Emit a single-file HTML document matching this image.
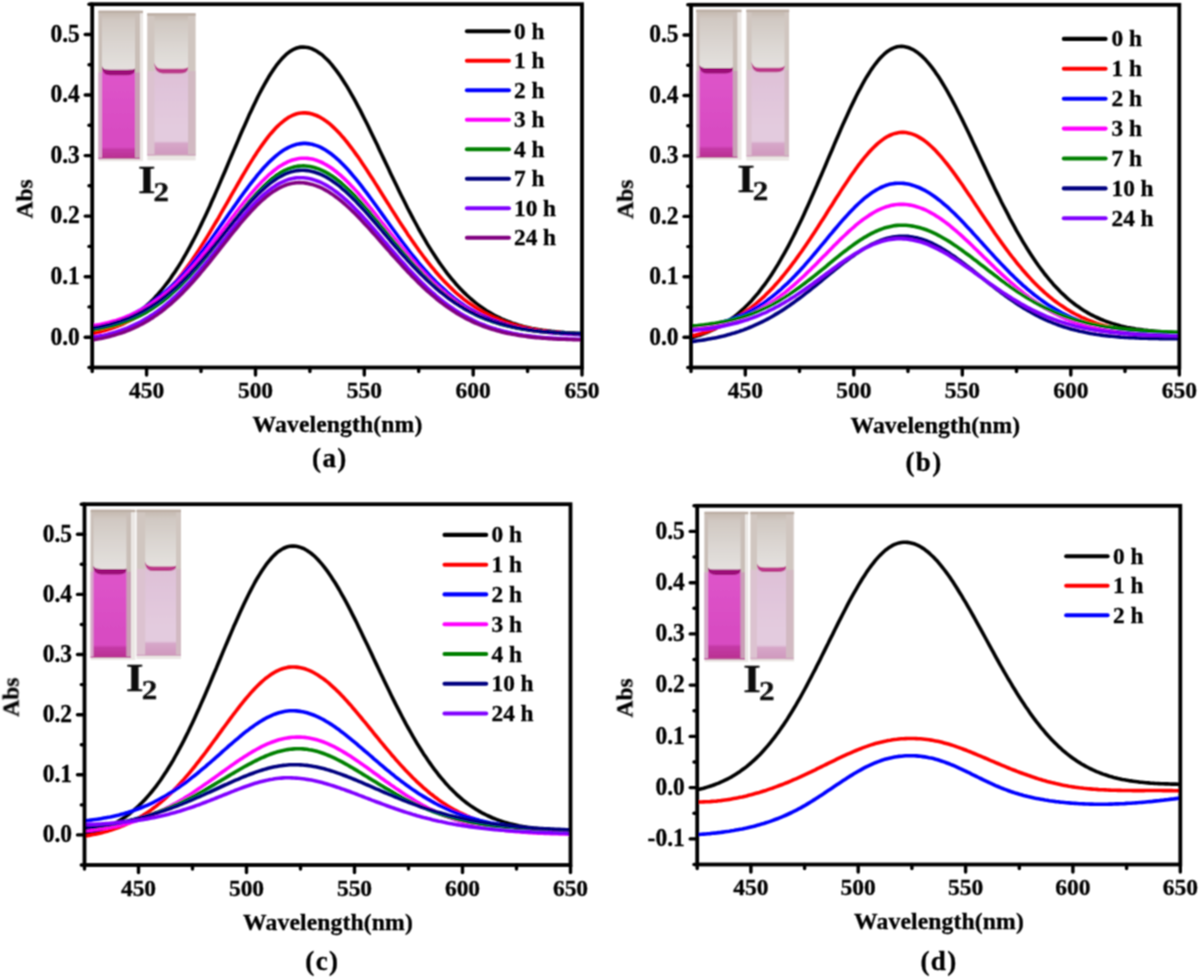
<!DOCTYPE html>
<html><head><meta charset="utf-8"><title>Abs spectra</title>
<style>html,body{margin:0;padding:0;background:#fff;}body{width:1200px;height:978px;overflow:hidden;font-family:"Liberation Serif",serif;}svg{display:block}</style>
</head><body>
<svg width="1200" height="978" viewBox="0 0 1200 978" font-family='"Liberation Serif", serif'>
<defs>
<filter id="gblur" x="0" y="0" width="1200" height="978" filterUnits="userSpaceOnUse"><feConvolveMatrix order="3" kernelMatrix="1 2 1 2 4 2 1 2 1" divisor="16" edgeMode="duplicate"/></filter>
<filter id="soft" x="-5%" y="-5%" width="110%" height="110%"><feGaussianBlur stdDeviation="0.6"/></filter>
</defs>
<style>text{stroke:#000;stroke-width:0.3px;paint-order:stroke}</style>
<rect width="1200" height="978" fill="#ffffff"/>
<g filter="url(#gblur)">
<defs><linearGradient id="ag995" x1="0" y1="10.7" x2="0" y2="72.5" gradientUnits="userSpaceOnUse"><stop offset="0" stop-color="#c2b5ab"/><stop offset="0.15" stop-color="#d0c8c2"/><stop offset="0.6" stop-color="#dcd7d3"/><stop offset="1" stop-color="#e5e2df"/></linearGradient><linearGradient id="lg995" x1="0" y1="72.5" x2="0" y2="159.1" gradientUnits="userSpaceOnUse"><stop offset="0" stop-color="#de54ca"/><stop offset="0.688" stop-color="#d84cc2"/><stop offset="0.860" stop-color="#d84cc2"/><stop offset="0.890" stop-color="#c43aa6"/><stop offset="1" stop-color="#b8308f"/></linearGradient></defs>
<g filter="url(#soft)">
<rect x="98.5" y="10.7" width="44.5" height="150.6" fill="#ebe7e4"/>
<rect x="98.4" y="10.7" width="41.6" height="148.4" fill="#c9beb7"/>
<rect x="98.4" y="72.5" width="4.1" height="86.6" fill="#d7a6cb"/>
<rect x="134.5" y="72.5" width="5.5" height="86.6" fill="#c99fb6"/>
<rect x="98.5" y="10.7" width="44.5" height="2.5" fill="#bcaea4"/>
<path d="M102.0,13.2 L135.0,13.2 L135.0,68.6 Q134.5,71.5 128.0,71.5 L109.0,71.5 Q102.5,71.5 102.0,66.3 Z" fill="url(#ag995)"/>
<path d="M102.0,66.3 Q102.5,72.5 109.0,72.5 L128.0,72.5 Q134.5,72.5 135.0,68.6 L135.0,158.1 L102.0,158.1 Z" fill="url(#lg995)"/>
<path d="M102.0,66.3 Q102.8,69.8 110.0,69.8 L127.0,69.8 Q134.2,69.8 135.0,68.6 L135.0,70.8 Q134.0,75.2 127.0,75.2 L110.0,75.2 Q103.0,75.2 102.0,68.5 Z" fill="#9c0e78"/>
<rect x="98.4" y="157.6" width="41.6" height="1.5" fill="#b8308f" opacity="0.6"/>
</g>
<defs><linearGradient id="ag1486" x1="0" y1="13.3" x2="0" y2="71.1" gradientUnits="userSpaceOnUse"><stop offset="0" stop-color="#c2b5ab"/><stop offset="0.15" stop-color="#d0c8c2"/><stop offset="0.6" stop-color="#dcd7d3"/><stop offset="1" stop-color="#e5e2df"/></linearGradient><linearGradient id="lg1486" x1="0" y1="71.1" x2="0" y2="155.6" gradientUnits="userSpaceOnUse"><stop offset="0" stop-color="#dec0d7"/><stop offset="0.662" stop-color="#e3cbde"/><stop offset="0.827" stop-color="#e3cbde"/><stop offset="0.857" stop-color="#d6a6c8"/><stop offset="1" stop-color="#cf98bd"/></linearGradient></defs>
<g filter="url(#soft)">
<rect x="147.3" y="13.3" width="48.3" height="147.1" fill="#ebe7e4"/>
<rect x="147.3" y="13.3" width="48.2" height="142.3" fill="#d0c6c0"/>
<rect x="147.3" y="71.1" width="7.7" height="84.5" fill="#dcc2d0"/>
<rect x="187.5" y="71.1" width="8.0" height="84.5" fill="#d2b9c2"/>
<rect x="147.3" y="13.3" width="48.3" height="2.5" fill="#bcaea4"/>
<path d="M154.5,15.8 L188.0,15.8 L188.0,67.0 Q187.5,70.1 181.0,70.1 L161.5,70.1 Q155.0,70.1 154.5,62.8 Z" fill="url(#ag1486)"/>
<path d="M154.5,62.8 Q155.0,71.1 161.5,71.1 L181.0,71.1 Q187.5,71.1 188.0,67.0 L188.0,154.6 L154.5,154.6 Z" fill="url(#lg1486)"/>
<path d="M154.5,62.8 Q155.3,68.8 162.5,68.8 L180.0,68.8 Q187.2,68.8 188.0,67.0 L188.0,69.2 Q187.0,73.4 180.0,73.4 L162.5,73.4 Q155.5,73.4 154.5,65.0 Z" fill="#bc388a"/>
<rect x="147.3" y="154.1" width="48.2" height="1.5" fill="#cf98bd" opacity="0.6"/>
</g>
<text transform="translate(138.0,193.0) scale(1.13,1.02)" font-size="40" font-weight="bold" fill="#111" stroke="#111" stroke-width="0.6">I</text>
<text transform="translate(153.6,200.8) scale(1.15,1.04)" font-size="27" font-weight="bold" fill="#111" stroke="#111" stroke-width="0.5">2</text>
<polyline points="92.2,332.8 94.4,332.3 96.6,331.8 98.7,331.2 100.9,330.7 103.1,330.0 105.3,329.4 107.4,328.7 109.6,327.9 111.8,327.1 114.0,326.2 116.1,325.3 118.3,324.4 120.5,323.4 122.7,322.3 124.9,321.1 127.0,319.9 129.2,318.7 131.4,317.3 133.6,315.9 135.7,314.4 137.9,312.8 140.1,311.2 142.3,309.4 144.4,307.6 146.6,305.7 148.8,303.7 151.0,301.6 153.2,299.4 155.3,297.1 157.5,294.8 159.7,292.3 161.9,289.7 164.0,287.0 166.2,284.2 168.4,281.3 170.6,278.3 172.7,275.1 174.9,271.9 177.1,268.6 179.3,265.1 181.5,261.6 183.6,257.9 185.8,254.1 188.0,250.2 190.2,246.2 192.3,242.2 194.5,238.0 196.7,233.7 198.9,229.3 201.0,224.9 203.2,220.3 205.4,215.7 207.6,211.0 209.8,206.2 211.9,201.3 214.1,196.4 216.3,191.4 218.5,186.4 220.6,181.4 222.8,176.3 225.0,171.2 227.2,166.0 229.3,160.9 231.5,155.8 233.7,150.6 235.9,145.5 238.1,140.4 240.2,135.3 242.4,130.3 244.6,125.4 246.8,120.5 248.9,115.6 251.1,110.9 253.3,106.2 255.5,101.7 257.6,97.3 259.8,93.0 262.0,88.8 264.2,84.8 266.4,81.0 268.5,77.3 270.7,73.7 272.9,70.4 275.1,67.3 277.2,64.3 279.4,61.6 281.6,59.1 283.8,56.8 285.9,54.7 288.1,52.9 290.3,51.3 292.5,49.9 294.7,48.9 296.8,48.0 299.0,47.4 301.2,47.1 303.4,47.0 305.5,47.2 307.7,47.5 309.9,48.1 312.1,48.8 314.2,49.8 316.4,51.0 318.6,52.4 320.8,53.9 323.0,55.7 325.1,57.7 327.3,59.8 329.5,62.1 331.7,64.6 333.8,67.3 336.0,70.1 338.2,73.1 340.4,76.2 342.5,79.5 344.7,82.9 346.9,86.4 349.1,90.1 351.2,93.8 353.4,97.7 355.6,101.7 357.8,105.8 360.0,109.9 362.1,114.1 364.3,118.5 366.5,122.8 368.7,127.2 370.8,131.7 373.0,136.2 375.2,140.8 377.4,145.3 379.5,149.9 381.7,154.5 383.9,159.1 386.1,163.7 388.3,168.3 390.4,172.9 392.6,177.5 394.8,182.0 397.0,186.5 399.1,191.0 401.3,195.5 403.5,199.8 405.7,204.2 407.8,208.5 410.0,212.7 412.2,216.9 414.4,221.0 416.6,225.0 418.7,229.0 420.9,232.9 423.1,236.7 425.3,240.4 427.4,244.1 429.6,247.6 431.8,251.1 434.0,254.5 436.1,257.8 438.3,261.1 440.5,264.2 442.7,267.2 444.9,270.2 447.0,273.1 449.2,275.9 451.4,278.6 453.6,281.2 455.7,283.7 457.9,286.1 460.1,288.5 462.3,290.7 464.4,292.9 466.6,295.0 468.8,297.0 471.0,299.0 473.2,300.8 475.3,302.6 477.5,304.3 479.7,306.0 481.9,307.5 484.0,309.0 486.2,310.5 488.4,311.8 490.6,313.1 492.7,314.4 494.9,315.6 497.1,316.7 499.3,317.7 501.5,318.8 503.6,319.7 505.8,320.6 508.0,321.5 510.2,322.3 512.3,323.1 514.5,323.8 516.7,324.5 518.9,325.2 521.0,325.8 523.2,326.4 525.4,326.9 527.6,327.4 529.8,327.9 531.9,328.4 534.1,328.8 536.3,329.2 538.5,329.6 540.6,329.9 542.8,330.3 545.0,330.6 547.2,330.9 549.3,331.1 551.5,331.4 553.7,331.6 555.9,331.8 558.1,332.0 560.2,332.2 562.4,332.4 564.6,332.6 566.8,332.7 568.9,332.9 571.1,333.0 573.3,333.1 575.5,333.2 577.6,333.3 579.8,333.4 582.0,333.5" fill="none" stroke="#000000" stroke-width="3.6" stroke-linejoin="round"/>
<polyline points="92.2,333.8 94.4,333.3 96.6,332.8 98.7,332.3 100.9,331.7 103.1,331.1 105.3,330.5 107.4,329.8 109.6,329.1 111.8,328.3 114.0,327.6 116.1,326.7 118.3,325.9 120.5,325.0 122.7,324.0 124.9,323.0 127.0,321.9 129.2,320.8 131.4,319.7 133.6,318.4 135.7,317.2 137.9,315.8 140.1,314.4 142.3,313.0 144.4,311.5 146.6,309.9 148.8,308.2 151.0,306.5 153.2,304.7 155.3,302.8 157.5,300.9 159.7,298.9 161.9,296.8 164.0,294.6 166.2,292.4 168.4,290.1 170.6,287.7 172.7,285.3 174.9,282.7 177.1,280.1 179.3,277.4 181.5,274.7 183.6,271.8 185.8,268.9 188.0,265.9 190.2,262.9 192.3,259.8 194.5,256.6 196.7,253.3 198.9,250.0 201.0,246.6 203.2,243.2 205.4,239.7 207.6,236.1 209.8,232.5 211.9,228.9 214.1,225.2 216.3,221.5 218.5,217.8 220.6,214.0 222.8,210.2 225.0,206.4 227.2,202.6 229.3,198.8 231.5,194.9 233.7,191.1 235.9,187.3 238.1,183.5 240.2,179.8 242.4,176.0 244.6,172.4 246.8,168.7 248.9,165.1 251.1,161.6 253.3,158.1 255.5,154.8 257.6,151.4 259.8,148.2 262.0,145.1 264.2,142.1 266.4,139.2 268.5,136.4 270.7,133.7 272.9,131.2 275.1,128.8 277.2,126.6 279.4,124.5 281.6,122.6 283.8,120.8 285.9,119.2 288.1,117.7 290.3,116.5 292.5,115.4 294.7,114.5 296.8,113.8 299.0,113.3 301.2,113.0 303.4,112.8 305.5,112.9 307.7,113.1 309.9,113.4 312.1,114.0 314.2,114.7 316.4,115.5 318.6,116.5 320.8,117.7 323.0,119.0 325.1,120.4 327.3,122.0 329.5,123.7 331.7,125.6 333.8,127.6 336.0,129.7 338.2,132.0 340.4,134.3 342.5,136.8 344.7,139.3 346.9,142.0 349.1,144.8 351.2,147.6 353.4,150.5 355.6,153.6 357.8,156.6 360.0,159.8 362.1,163.0 364.3,166.2 366.5,169.5 368.7,172.9 370.8,176.2 373.0,179.6 375.2,183.1 377.4,186.5 379.5,190.0 381.7,193.5 383.9,197.0 386.1,200.5 388.3,203.9 390.4,207.4 392.6,210.9 394.8,214.3 397.0,217.7 399.1,221.1 401.3,224.5 403.5,227.8 405.7,231.1 407.8,234.4 410.0,237.6 412.2,240.8 414.4,243.9 416.6,247.0 418.7,250.1 420.9,253.0 423.1,256.0 425.3,258.8 427.4,261.6 429.6,264.4 431.8,267.1 434.0,269.7 436.1,272.3 438.3,274.8 440.5,277.2 442.7,279.6 444.9,281.9 447.0,284.1 449.2,286.3 451.4,288.4 453.6,290.5 455.7,292.5 457.9,294.4 460.1,296.2 462.3,298.0 464.4,299.8 466.6,301.4 468.8,303.1 471.0,304.6 473.2,306.1 475.3,307.5 477.5,308.9 479.7,310.3 481.9,311.5 484.0,312.7 486.2,313.9 488.4,315.0 490.6,316.1 492.7,317.1 494.9,318.1 497.1,319.0 499.3,319.9 501.5,320.8 503.6,321.6 505.8,322.4 508.0,323.1 510.2,323.8 512.3,324.4 514.5,325.1 516.7,325.7 518.9,326.2 521.0,326.8 523.2,327.3 525.4,327.8 527.6,328.2 529.8,328.6 531.9,329.0 534.1,329.4 536.3,329.8 538.5,330.1 540.6,330.4 542.8,330.7 545.0,331.0 547.2,331.3 549.3,331.5 551.5,331.8 553.7,332.0 555.9,332.2 558.1,332.4 560.2,332.6 562.4,332.8 564.6,332.9 566.8,333.1 568.9,333.2 571.1,333.4 573.3,333.5 575.5,333.6 577.6,333.7 579.8,333.8 582.0,333.9" fill="none" stroke="#ff0000" stroke-width="3.6" stroke-linejoin="round"/>
<polyline points="92.2,327.4 94.4,327.0 96.6,326.5 98.7,326.0 100.9,325.5 103.1,325.0 105.3,324.4 107.4,323.8 109.6,323.2 111.8,322.5 114.0,321.8 116.1,321.1 118.3,320.3 120.5,319.5 122.7,318.6 124.9,317.7 127.0,316.8 129.2,315.8 131.4,314.8 133.6,313.7 135.7,312.6 137.9,311.4 140.1,310.2 142.3,308.9 144.4,307.6 146.6,306.2 148.8,304.7 151.0,303.2 153.2,301.7 155.3,300.1 157.5,298.4 159.7,296.7 161.9,294.9 164.0,293.0 166.2,291.1 168.4,289.1 170.6,287.1 172.7,285.0 174.9,282.9 177.1,280.7 179.3,278.4 181.5,276.1 183.6,273.7 185.8,271.2 188.0,268.7 190.2,266.2 192.3,263.5 194.5,260.9 196.7,258.2 198.9,255.4 201.0,252.6 203.2,249.8 205.4,246.9 207.6,243.9 209.8,241.0 211.9,238.0 214.1,235.0 216.3,231.9 218.5,228.8 220.6,225.7 222.8,222.6 225.0,219.5 227.2,216.4 229.3,213.3 231.5,210.2 233.7,207.1 235.9,204.0 238.1,200.9 240.2,197.8 242.4,194.8 244.6,191.8 246.8,188.9 248.9,186.0 251.1,183.1 253.3,180.3 255.5,177.6 257.6,174.9 259.8,172.3 262.0,169.8 264.2,167.3 266.4,165.0 268.5,162.7 270.7,160.6 272.9,158.6 275.1,156.6 277.2,154.8 279.4,153.1 281.6,151.5 283.8,150.1 285.9,148.8 288.1,147.6 290.3,146.6 292.5,145.7 294.7,144.9 296.8,144.3 299.0,143.9 301.2,143.6 303.4,143.4 305.5,143.4 307.7,143.6 309.9,143.9 312.1,144.3 314.2,144.9 316.4,145.6 318.6,146.4 320.8,147.4 323.0,148.6 325.1,149.8 327.3,151.2 329.5,152.7 331.7,154.3 333.8,156.0 336.0,157.9 338.2,159.8 340.4,161.9 342.5,164.0 344.7,166.3 346.9,168.6 349.1,171.0 351.2,173.5 353.4,176.1 355.6,178.7 357.8,181.4 360.0,184.1 362.1,186.9 364.3,189.8 366.5,192.6 368.7,195.6 370.8,198.5 373.0,201.5 375.2,204.5 377.4,207.5 379.5,210.5 381.7,213.6 383.9,216.6 386.1,219.7 388.3,222.7 390.4,225.7 392.6,228.7 394.8,231.7 397.0,234.7 399.1,237.7 401.3,240.6 403.5,243.5 405.7,246.4 407.8,249.2 410.0,252.0 412.2,254.8 414.4,257.5 416.6,260.2 418.7,262.8 420.9,265.4 423.1,267.9 425.3,270.4 427.4,272.8 429.6,275.2 431.8,277.5 434.0,279.7 436.1,282.0 438.3,284.1 440.5,286.2 442.7,288.2 444.9,290.2 447.0,292.1 449.2,294.0 451.4,295.8 453.6,297.6 455.7,299.3 457.9,300.9 460.1,302.5 462.3,304.0 464.4,305.5 466.6,306.9 468.8,308.3 471.0,309.6 473.2,310.9 475.3,312.1 477.5,313.3 479.7,314.4 481.9,315.5 484.0,316.5 486.2,317.5 488.4,318.4 490.6,319.4 492.7,320.2 494.9,321.0 497.1,321.8 499.3,322.6 501.5,323.3 503.6,324.0 505.8,324.6 508.0,325.3 510.2,325.9 512.3,326.4 514.5,326.9 516.7,327.5 518.9,327.9 521.0,328.4 523.2,328.8 525.4,329.2 527.6,329.6 529.8,330.0 531.9,330.3 534.1,330.7 536.3,331.0 538.5,331.3 540.6,331.6 542.8,331.8 545.0,332.1 547.2,332.3 549.3,332.5 551.5,332.7 553.7,332.9 555.9,333.1 558.1,333.3 560.2,333.5 562.4,333.6 564.6,333.8 566.8,333.9 568.9,334.1 571.1,334.2 573.3,334.3 575.5,334.4 577.6,334.5 579.8,334.6 582.0,334.7" fill="none" stroke="#0000ff" stroke-width="3.6" stroke-linejoin="round"/>
<polyline points="92.2,325.9 94.4,325.5 96.6,325.1 98.7,324.7 100.9,324.3 103.1,323.8 105.3,323.3 107.4,322.8 109.6,322.2 111.8,321.6 114.0,321.0 116.1,320.4 118.3,319.7 120.5,318.9 122.7,318.2 124.9,317.4 127.0,316.5 129.2,315.6 131.4,314.7 133.6,313.7 135.7,312.7 137.9,311.7 140.1,310.5 142.3,309.4 144.4,308.2 146.6,306.9 148.8,305.6 151.0,304.2 153.2,302.8 155.3,301.3 157.5,299.8 159.7,298.2 161.9,296.6 164.0,294.9 166.2,293.1 168.4,291.3 170.6,289.4 172.7,287.5 174.9,285.5 177.1,283.5 179.3,281.4 181.5,279.2 183.6,277.0 185.8,274.8 188.0,272.4 190.2,270.1 192.3,267.7 194.5,265.2 196.7,262.7 198.9,260.2 201.0,257.6 203.2,254.9 205.4,252.3 207.6,249.6 209.8,246.8 211.9,244.1 214.1,241.3 216.3,238.4 218.5,235.6 220.6,232.8 222.8,229.9 225.0,227.0 227.2,224.2 229.3,221.3 231.5,218.4 233.7,215.6 235.9,212.7 238.1,209.9 240.2,207.1 242.4,204.4 244.6,201.6 246.8,198.9 248.9,196.3 251.1,193.7 253.3,191.1 255.5,188.6 257.6,186.2 259.8,183.9 262.0,181.6 264.2,179.4 266.4,177.3 268.5,175.2 270.7,173.3 272.9,171.5 275.1,169.7 277.2,168.1 279.4,166.6 281.6,165.2 283.8,163.9 285.9,162.8 288.1,161.7 290.3,160.8 292.5,160.0 294.7,159.4 296.8,158.9 299.0,158.5 301.2,158.3 303.4,158.2 305.5,158.2 307.7,158.4 309.9,158.7 312.1,159.1 314.2,159.6 316.4,160.3 318.6,161.1 320.8,162.0 323.0,163.0 325.1,164.2 327.3,165.4 329.5,166.8 331.7,168.3 333.8,169.8 336.0,171.5 338.2,173.3 340.4,175.1 342.5,177.1 344.7,179.1 346.9,181.2 349.1,183.4 351.2,185.7 353.4,188.0 355.6,190.4 357.8,192.8 360.0,195.3 362.1,197.9 364.3,200.5 366.5,203.1 368.7,205.8 370.8,208.5 373.0,211.2 375.2,213.9 377.4,216.7 379.5,219.5 381.7,222.3 383.9,225.0 386.1,227.8 388.3,230.6 390.4,233.4 392.6,236.2 394.8,238.9 397.0,241.7 399.1,244.4 401.3,247.1 403.5,249.8 405.7,252.4 407.8,255.0 410.0,257.6 412.2,260.2 414.4,262.7 416.6,265.2 418.7,267.6 420.9,270.0 423.1,272.3 425.3,274.6 427.4,276.8 429.6,279.0 431.8,281.2 434.0,283.3 436.1,285.3 438.3,287.3 440.5,289.3 442.7,291.2 444.9,293.0 447.0,294.8 449.2,296.5 451.4,298.2 453.6,299.8 455.7,301.4 457.9,303.0 460.1,304.4 462.3,305.9 464.4,307.2 466.6,308.6 468.8,309.8 471.0,311.1 473.2,312.2 475.3,313.4 477.5,314.5 479.7,315.5 481.9,316.5 484.0,317.5 486.2,318.4 488.4,319.3 490.6,320.1 492.7,320.9 494.9,321.7 497.1,322.4 499.3,323.1 501.5,323.8 503.6,324.5 505.8,325.1 508.0,325.6 510.2,326.2 512.3,326.7 514.5,327.2 516.7,327.7 518.9,328.1 521.0,328.5 523.2,328.9 525.4,329.3 527.6,329.7 529.8,330.0 531.9,330.4 534.1,330.7 536.3,331.0 538.5,331.2 540.6,331.5 542.8,331.7 545.0,332.0 547.2,332.2 549.3,332.4 551.5,332.6 553.7,332.8 555.9,332.9 558.1,333.1 560.2,333.3 562.4,333.4 564.6,333.6 566.8,333.7 568.9,333.8 571.1,333.9 573.3,334.0 575.5,334.2 577.6,334.3 579.8,334.3 582.0,334.4" fill="none" stroke="#ff00ff" stroke-width="3.6" stroke-linejoin="round"/>
<polyline points="92.2,329.9 94.4,329.6 96.6,329.2 98.7,328.8 100.9,328.4 103.1,328.0 105.3,327.6 107.4,327.1 109.6,326.6 111.8,326.0 114.0,325.5 116.1,324.9 118.3,324.2 120.5,323.5 122.7,322.8 124.9,322.1 127.0,321.3 129.2,320.4 131.4,319.6 133.6,318.6 135.7,317.7 137.9,316.6 140.1,315.6 142.3,314.4 144.4,313.3 146.6,312.1 148.8,310.8 151.0,309.5 153.2,308.1 155.3,306.6 157.5,305.1 159.7,303.6 161.9,302.0 164.0,300.3 166.2,298.6 168.4,296.8 170.6,294.9 172.7,293.0 174.9,291.0 177.1,289.0 179.3,286.9 181.5,284.8 183.6,282.6 185.8,280.3 188.0,278.0 190.2,275.7 192.3,273.2 194.5,270.8 196.7,268.3 198.9,265.7 201.0,263.1 203.2,260.5 205.4,257.8 207.6,255.1 209.8,252.3 211.9,249.6 214.1,246.8 216.3,243.9 218.5,241.1 220.6,238.2 222.8,235.4 225.0,232.5 227.2,229.7 229.3,226.8 231.5,223.9 233.7,221.1 235.9,218.3 238.1,215.5 240.2,212.7 242.4,210.0 244.6,207.3 246.8,204.6 248.9,202.0 251.1,199.4 253.3,197.0 255.5,194.5 257.6,192.2 259.8,189.9 262.0,187.7 264.2,185.5 266.4,183.5 268.5,181.6 270.7,179.7 272.9,178.0 275.1,176.3 277.2,174.8 279.4,173.4 281.6,172.1 283.8,170.9 285.9,169.8 288.1,168.9 290.3,168.1 292.5,167.4 294.7,166.8 296.8,166.4 299.0,166.1 301.2,166.0 303.4,165.9 305.5,166.0 307.7,166.2 309.9,166.5 312.1,167.0 314.2,167.5 316.4,168.2 318.6,168.9 320.8,169.8 323.0,170.8 325.1,171.9 327.3,173.1 329.5,174.4 331.7,175.8 333.8,177.2 336.0,178.8 338.2,180.5 340.4,182.2 342.5,184.1 344.7,186.0 346.9,188.0 349.1,190.0 351.2,192.1 353.4,194.3 355.6,196.6 357.8,198.9 360.0,201.3 362.1,203.7 364.3,206.1 366.5,208.6 368.7,211.1 370.8,213.7 373.0,216.3 375.2,218.9 377.4,221.5 379.5,224.1 381.7,226.8 383.9,229.5 386.1,232.1 388.3,234.8 390.4,237.5 392.6,240.1 394.8,242.8 397.0,245.4 399.1,248.0 401.3,250.6 403.5,253.2 405.7,255.7 407.8,258.2 410.0,260.7 412.2,263.2 414.4,265.6 416.6,268.0 418.7,270.3 420.9,272.6 423.1,274.9 425.3,277.1 427.4,279.3 429.6,281.4 431.8,283.5 434.0,285.5 436.1,287.5 438.3,289.4 440.5,291.3 442.7,293.1 444.9,294.9 447.0,296.6 449.2,298.3 451.4,299.9 453.6,301.5 455.7,303.0 457.9,304.5 460.1,305.9 462.3,307.3 464.4,308.6 466.6,309.9 468.8,311.1 471.0,312.3 473.2,313.4 475.3,314.5 477.5,315.5 479.7,316.5 481.9,317.5 484.0,318.4 486.2,319.3 488.4,320.1 490.6,320.9 492.7,321.7 494.9,322.4 497.1,323.1 499.3,323.8 501.5,324.4 503.6,325.0 505.8,325.6 508.0,326.1 510.2,326.6 512.3,327.1 514.5,327.6 516.7,328.0 518.9,328.4 521.0,328.8 523.2,329.2 525.4,329.5 527.6,329.8 529.8,330.1 531.9,330.4 534.1,330.7 536.3,330.9 538.5,331.2 540.6,331.4 542.8,331.6 545.0,331.8 547.2,332.0 549.3,332.1 551.5,332.3 553.7,332.4 555.9,332.6 558.1,332.7 560.2,332.8 562.4,332.9 564.6,333.0 566.8,333.1 568.9,333.2 571.1,333.3 573.3,333.4 575.5,333.5 577.6,333.5 579.8,333.6 582.0,333.7" fill="none" stroke="#008000" stroke-width="3.6" stroke-linejoin="round"/>
<polyline points="92.2,328.1 94.4,327.7 96.6,327.3 98.7,326.9 100.9,326.4 103.1,325.9 105.3,325.4 107.4,324.9 109.6,324.4 111.8,323.8 114.0,323.1 116.1,322.5 118.3,321.8 120.5,321.1 122.7,320.3 124.9,319.5 127.0,318.7 129.2,317.8 131.4,316.8 133.6,315.9 135.7,314.9 137.9,313.8 140.1,312.7 142.3,311.6 144.4,310.4 146.6,309.1 148.8,307.8 151.0,306.5 153.2,305.1 155.3,303.7 157.5,302.2 159.7,300.6 161.9,299.0 164.0,297.3 166.2,295.6 168.4,293.9 170.6,292.0 172.7,290.2 174.9,288.3 177.1,286.3 179.3,284.2 181.5,282.2 183.6,280.0 185.8,277.9 188.0,275.6 190.2,273.4 192.3,271.0 194.5,268.7 196.7,266.3 198.9,263.8 201.0,261.4 203.2,258.8 205.4,256.3 207.6,253.7 209.8,251.1 211.9,248.5 214.1,245.9 216.3,243.2 218.5,240.5 220.6,237.8 222.8,235.1 225.0,232.4 227.2,229.7 229.3,227.0 231.5,224.4 233.7,221.7 235.9,219.0 238.1,216.4 240.2,213.8 242.4,211.2 244.6,208.7 246.8,206.2 248.9,203.8 251.1,201.4 253.3,199.0 255.5,196.8 257.6,194.5 259.8,192.4 262.0,190.3 264.2,188.3 266.4,186.4 268.5,184.6 270.7,182.9 272.9,181.3 275.1,179.7 277.2,178.3 279.4,177.0 281.6,175.8 283.8,174.7 285.9,173.7 288.1,172.8 290.3,172.1 292.5,171.5 294.7,171.0 296.8,170.6 299.0,170.4 301.2,170.2 303.4,170.3 305.5,170.4 307.7,170.6 309.9,171.0 312.1,171.4 314.2,172.0 316.4,172.7 318.6,173.5 320.8,174.4 323.0,175.4 325.1,176.5 327.3,177.7 329.5,179.1 331.7,180.5 333.8,182.0 336.0,183.5 338.2,185.2 340.4,186.9 342.5,188.8 344.7,190.7 346.9,192.6 349.1,194.7 351.2,196.8 353.4,198.9 355.6,201.1 357.8,203.4 360.0,205.7 362.1,208.0 364.3,210.4 366.5,212.9 368.7,215.3 370.8,217.8 373.0,220.3 375.2,222.8 377.4,225.3 379.5,227.9 381.7,230.4 383.9,233.0 386.1,235.5 388.3,238.1 390.4,240.7 392.6,243.2 394.8,245.7 397.0,248.2 399.1,250.7 401.3,253.2 403.5,255.7 405.7,258.1 407.8,260.5 410.0,262.9 412.2,265.2 414.4,267.5 416.6,269.8 418.7,272.0 420.9,274.2 423.1,276.3 425.3,278.4 427.4,280.5 429.6,282.5 431.8,284.5 434.0,286.5 436.1,288.3 438.3,290.2 440.5,292.0 442.7,293.7 444.9,295.4 447.0,297.1 449.2,298.7 451.4,300.2 453.6,301.7 455.7,303.2 457.9,304.6 460.1,306.0 462.3,307.3 464.4,308.6 466.6,309.8 468.8,311.0 471.0,312.1 473.2,313.2 475.3,314.3 477.5,315.3 479.7,316.3 481.9,317.2 484.0,318.1 486.2,319.0 488.4,319.8 490.6,320.6 492.7,321.4 494.9,322.1 497.1,322.8 499.3,323.4 501.5,324.0 503.6,324.6 505.8,325.2 508.0,325.8 510.2,326.3 512.3,326.8 514.5,327.2 516.7,327.7 518.9,328.1 521.0,328.5 523.2,328.9 525.4,329.2 527.6,329.6 529.8,329.9 531.9,330.2 534.1,330.5 536.3,330.7 538.5,331.0 540.6,331.2 542.8,331.5 545.0,331.7 547.2,331.9 549.3,332.1 551.5,332.2 553.7,332.4 555.9,332.6 558.1,332.7 560.2,332.9 562.4,333.0 564.6,333.1 566.8,333.2 568.9,333.3 571.1,333.5 573.3,333.6 575.5,333.6 577.6,333.7 579.8,333.8 582.0,333.9" fill="none" stroke="#000080" stroke-width="3.6" stroke-linejoin="round"/>
<polyline points="92.2,337.5 94.4,337.1 96.6,336.7 98.7,336.3 100.9,335.8 103.1,335.4 105.3,334.9 107.4,334.4 109.6,333.8 111.8,333.2 114.0,332.6 116.1,331.9 118.3,331.2 120.5,330.5 122.7,329.7 124.9,328.9 127.0,328.1 129.2,327.2 131.4,326.2 133.6,325.2 135.7,324.2 137.9,323.1 140.1,322.0 142.3,320.8 144.4,319.6 146.6,318.3 148.8,317.0 151.0,315.6 153.2,314.2 155.3,312.7 157.5,311.1 159.7,309.5 161.9,307.8 164.0,306.1 166.2,304.3 168.4,302.5 170.6,300.6 172.7,298.7 174.9,296.7 177.1,294.6 179.3,292.5 181.5,290.3 183.6,288.1 185.8,285.8 188.0,283.5 190.2,281.1 192.3,278.7 194.5,276.3 196.7,273.8 198.9,271.2 201.0,268.6 203.2,266.0 205.4,263.4 207.6,260.7 209.8,258.0 211.9,255.3 214.1,252.5 216.3,249.8 218.5,247.0 220.6,244.2 222.8,241.4 225.0,238.6 227.2,235.9 229.3,233.1 231.5,230.4 233.7,227.6 235.9,224.9 238.1,222.3 240.2,219.6 242.4,217.0 244.6,214.5 246.8,212.0 248.9,209.5 251.1,207.1 253.3,204.8 255.5,202.5 257.6,200.3 259.8,198.2 262.0,196.2 264.2,194.2 266.4,192.4 268.5,190.6 270.7,189.0 272.9,187.4 275.1,186.0 277.2,184.6 279.4,183.4 281.6,182.3 283.8,181.3 285.9,180.4 288.1,179.6 290.3,179.0 292.5,178.5 294.7,178.1 296.8,177.8 299.0,177.7 301.2,177.7 303.4,177.8 305.5,178.0 307.7,178.3 309.9,178.7 312.1,179.3 314.2,179.9 316.4,180.7 318.6,181.5 320.8,182.4 323.0,183.5 325.1,184.6 327.3,185.8 329.5,187.2 331.7,188.6 333.8,190.1 336.0,191.7 338.2,193.3 340.4,195.1 342.5,196.9 344.7,198.8 346.9,200.7 349.1,202.8 351.2,204.8 353.4,207.0 355.6,209.2 357.8,211.4 360.0,213.7 362.1,216.0 364.3,218.4 366.5,220.8 368.7,223.2 370.8,225.7 373.0,228.2 375.2,230.7 377.4,233.2 379.5,235.7 381.7,238.2 383.9,240.8 386.1,243.3 388.3,245.9 390.4,248.4 392.6,250.9 394.8,253.4 397.0,255.9 399.1,258.4 401.3,260.9 403.5,263.3 405.7,265.7 407.8,268.1 410.0,270.5 412.2,272.8 414.4,275.1 416.6,277.3 418.7,279.6 420.9,281.7 423.1,283.9 425.3,286.0 427.4,288.0 429.6,290.0 431.8,292.0 434.0,293.9 436.1,295.8 438.3,297.6 440.5,299.4 442.7,301.1 444.9,302.8 447.0,304.4 449.2,306.0 451.4,307.5 453.6,309.0 455.7,310.4 457.9,311.8 460.1,313.2 462.3,314.5 464.4,315.7 466.6,316.9 468.8,318.1 471.0,319.2 473.2,320.3 475.3,321.3 477.5,322.3 479.7,323.3 481.9,324.2 484.0,325.0 486.2,325.9 488.4,326.7 490.6,327.4 492.7,328.1 494.9,328.8 497.1,329.5 499.3,330.1 501.5,330.7 503.6,331.3 505.8,331.8 508.0,332.3 510.2,332.8 512.3,333.3 514.5,333.7 516.7,334.1 518.9,334.5 521.0,334.8 523.2,335.2 525.4,335.5 527.6,335.8 529.8,336.1 531.9,336.4 534.1,336.6 536.3,336.9 538.5,337.1 540.6,337.3 542.8,337.5 545.0,337.7 547.2,337.8 549.3,338.0 551.5,338.1 553.7,338.3 555.9,338.4 558.1,338.5 560.2,338.6 562.4,338.7 564.6,338.8 566.8,338.9 568.9,339.0 571.1,339.1 573.3,339.1 575.5,339.2 577.6,339.2 579.8,339.3 582.0,339.3" fill="none" stroke="#8000ff" stroke-width="3.6" stroke-linejoin="round"/>
<polyline points="92.2,339.9 94.4,339.6 96.6,339.2 98.7,338.8 100.9,338.4 103.1,337.9 105.3,337.5 107.4,337.0 109.6,336.4 111.8,335.8 114.0,335.2 116.1,334.6 118.3,333.9 120.5,333.2 122.7,332.5 124.9,331.7 127.0,330.9 129.2,330.0 131.4,329.1 133.6,328.2 135.7,327.2 137.9,326.1 140.1,325.0 142.3,323.9 144.4,322.7 146.6,321.4 148.8,320.1 151.0,318.8 153.2,317.4 155.3,315.9 157.5,314.4 159.7,312.8 161.9,311.2 164.0,309.5 166.2,307.7 168.4,305.9 170.6,304.1 172.7,302.2 174.9,300.2 177.1,298.1 179.3,296.1 181.5,293.9 183.6,291.7 185.8,289.5 188.0,287.2 190.2,284.8 192.3,282.5 194.5,280.0 196.7,277.5 198.9,275.0 201.0,272.4 203.2,269.9 205.4,267.2 207.6,264.6 209.8,261.9 211.9,259.2 214.1,256.4 216.3,253.7 218.5,250.9 220.6,248.2 222.8,245.4 225.0,242.7 227.2,239.9 229.3,237.1 231.5,234.4 233.7,231.7 235.9,229.0 238.1,226.4 240.2,223.7 242.4,221.1 244.6,218.6 246.8,216.1 248.9,213.7 251.1,211.3 253.3,209.0 255.5,206.7 257.6,204.6 259.8,202.5 262.0,200.5 264.2,198.6 266.4,196.7 268.5,195.0 270.7,193.4 272.9,191.8 275.1,190.4 277.2,189.1 279.4,187.9 281.6,186.8 283.8,185.9 285.9,185.0 288.1,184.3 290.3,183.7 292.5,183.3 294.7,182.9 296.8,182.7 299.0,182.6 301.2,182.7 303.4,182.8 305.5,183.1 307.7,183.4 309.9,183.9 312.1,184.4 314.2,185.1 316.4,185.9 318.6,186.7 320.8,187.7 323.0,188.7 325.1,189.9 327.3,191.1 329.5,192.5 331.7,193.9 333.8,195.4 336.0,197.0 338.2,198.6 340.4,200.4 342.5,202.2 344.7,204.0 346.9,206.0 349.1,208.0 351.2,210.0 353.4,212.1 355.6,214.3 357.8,216.5 360.0,218.8 362.1,221.1 364.3,223.4 366.5,225.7 368.7,228.1 370.8,230.5 373.0,233.0 375.2,235.4 377.4,237.9 379.5,240.3 381.7,242.8 383.9,245.3 386.1,247.8 388.3,250.2 390.4,252.7 392.6,255.2 394.8,257.6 397.0,260.0 399.1,262.4 401.3,264.8 403.5,267.2 405.7,269.5 407.8,271.9 410.0,274.1 412.2,276.4 414.4,278.6 416.6,280.8 418.7,282.9 420.9,285.0 423.1,287.1 425.3,289.1 427.4,291.1 429.6,293.0 431.8,294.9 434.0,296.7 436.1,298.5 438.3,300.3 440.5,302.0 442.7,303.6 444.9,305.3 447.0,306.8 449.2,308.3 451.4,309.8 453.6,311.2 455.7,312.6 457.9,313.9 460.1,315.2 462.3,316.5 464.4,317.6 466.6,318.8 468.8,319.9 471.0,321.0 473.2,322.0 475.3,323.0 477.5,323.9 479.7,324.8 481.9,325.7 484.0,326.5 486.2,327.3 488.4,328.0 490.6,328.8 492.7,329.4 494.9,330.1 497.1,330.7 499.3,331.3 501.5,331.9 503.6,332.4 505.8,332.9 508.0,333.4 510.2,333.8 512.3,334.2 514.5,334.6 516.7,335.0 518.9,335.4 521.0,335.7 523.2,336.0 525.4,336.3 527.6,336.6 529.8,336.9 531.9,337.1 534.1,337.4 536.3,337.6 538.5,337.8 540.6,338.0 542.8,338.1 545.0,338.3 547.2,338.5 549.3,338.6 551.5,338.7 553.7,338.9 555.9,339.0 558.1,339.1 560.2,339.2 562.4,339.3 564.6,339.3 566.8,339.4 568.9,339.5 571.1,339.5 573.3,339.6 575.5,339.6 577.6,339.7 579.8,339.7 582.0,339.8" fill="none" stroke="#800080" stroke-width="3.6" stroke-linejoin="round"/>
<rect x="92.2" y="4.2" width="489.8" height="363.3" fill="none" stroke="#000" stroke-width="3.8"/>
<line x1="92.2" y1="367.5" x2="92.2" y2="371.5" stroke="#000" stroke-width="3.4" stroke-linecap="round"/>
<line x1="146.6" y1="367.5" x2="146.6" y2="375.1" stroke="#000" stroke-width="3.4" stroke-linecap="round"/>
<text transform="translate(146.6,398.1) scale(1,0.985)" font-size="23.5" font-weight="bold" text-anchor="middle">450</text>
<line x1="201.0" y1="367.5" x2="201.0" y2="371.5" stroke="#000" stroke-width="3.4" stroke-linecap="round"/>
<line x1="255.5" y1="367.5" x2="255.5" y2="375.1" stroke="#000" stroke-width="3.4" stroke-linecap="round"/>
<text transform="translate(255.5,398.1) scale(1,0.985)" font-size="23.5" font-weight="bold" text-anchor="middle">500</text>
<line x1="309.9" y1="367.5" x2="309.9" y2="371.5" stroke="#000" stroke-width="3.4" stroke-linecap="round"/>
<line x1="364.3" y1="367.5" x2="364.3" y2="375.1" stroke="#000" stroke-width="3.4" stroke-linecap="round"/>
<text transform="translate(364.3,398.1) scale(1,0.985)" font-size="23.5" font-weight="bold" text-anchor="middle">550</text>
<line x1="418.7" y1="367.5" x2="418.7" y2="371.5" stroke="#000" stroke-width="3.4" stroke-linecap="round"/>
<line x1="473.2" y1="367.5" x2="473.2" y2="375.1" stroke="#000" stroke-width="3.4" stroke-linecap="round"/>
<text transform="translate(473.2,398.1) scale(1,0.985)" font-size="23.5" font-weight="bold" text-anchor="middle">600</text>
<line x1="527.6" y1="367.5" x2="527.6" y2="371.5" stroke="#000" stroke-width="3.4" stroke-linecap="round"/>
<line x1="582.0" y1="367.5" x2="582.0" y2="375.1" stroke="#000" stroke-width="3.4" stroke-linecap="round"/>
<text transform="translate(582.0,398.1) scale(1,0.985)" font-size="23.5" font-weight="bold" text-anchor="middle">650</text>
<line x1="89.0" y1="367.5" x2="92.2" y2="367.5" stroke="#000" stroke-width="3.4" stroke-linecap="round"/>
<line x1="85.2" y1="337.2" x2="92.2" y2="337.2" stroke="#000" stroke-width="3.4" stroke-linecap="round"/>
<text transform="translate(79.8,344.5) scale(1,1.035)" font-size="23.5" font-weight="bold" text-anchor="end">0.0</text>
<line x1="89.0" y1="306.9" x2="92.2" y2="306.9" stroke="#000" stroke-width="3.4" stroke-linecap="round"/>
<line x1="85.2" y1="276.7" x2="92.2" y2="276.7" stroke="#000" stroke-width="3.4" stroke-linecap="round"/>
<text transform="translate(79.8,284.0) scale(1,1.035)" font-size="23.5" font-weight="bold" text-anchor="end">0.1</text>
<line x1="89.0" y1="246.4" x2="92.2" y2="246.4" stroke="#000" stroke-width="3.4" stroke-linecap="round"/>
<line x1="85.2" y1="216.1" x2="92.2" y2="216.1" stroke="#000" stroke-width="3.4" stroke-linecap="round"/>
<text transform="translate(79.8,223.4) scale(1,1.035)" font-size="23.5" font-weight="bold" text-anchor="end">0.2</text>
<line x1="89.0" y1="185.8" x2="92.2" y2="185.8" stroke="#000" stroke-width="3.4" stroke-linecap="round"/>
<line x1="85.2" y1="155.6" x2="92.2" y2="155.6" stroke="#000" stroke-width="3.4" stroke-linecap="round"/>
<text transform="translate(79.8,162.9) scale(1,1.035)" font-size="23.5" font-weight="bold" text-anchor="end">0.3</text>
<line x1="89.0" y1="125.3" x2="92.2" y2="125.3" stroke="#000" stroke-width="3.4" stroke-linecap="round"/>
<line x1="85.2" y1="95.0" x2="92.2" y2="95.0" stroke="#000" stroke-width="3.4" stroke-linecap="round"/>
<text transform="translate(79.8,102.3) scale(1,1.035)" font-size="23.5" font-weight="bold" text-anchor="end">0.4</text>
<line x1="89.0" y1="64.8" x2="92.2" y2="64.8" stroke="#000" stroke-width="3.4" stroke-linecap="round"/>
<line x1="85.2" y1="34.5" x2="92.2" y2="34.5" stroke="#000" stroke-width="3.4" stroke-linecap="round"/>
<text transform="translate(79.8,41.8) scale(1,1.035)" font-size="23.5" font-weight="bold" text-anchor="end">0.5</text>
<line x1="89.0" y1="4.2" x2="92.2" y2="4.2" stroke="#000" stroke-width="3.4" stroke-linecap="round"/>
<line x1="466.9" y1="31.3" x2="508.9" y2="31.3" stroke="#000000" stroke-width="4.1" stroke-linecap="round"/>
<text x="514.0" y="38.8" font-size="23.3" font-weight="bold">0&#160;h</text>
<line x1="466.9" y1="60.8" x2="508.9" y2="60.8" stroke="#ff0000" stroke-width="4.1" stroke-linecap="round"/>
<text x="514.0" y="68.3" font-size="23.3" font-weight="bold">1&#160;h</text>
<line x1="466.9" y1="90.3" x2="508.9" y2="90.3" stroke="#0000ff" stroke-width="4.1" stroke-linecap="round"/>
<text x="514.0" y="97.8" font-size="23.3" font-weight="bold">2&#160;h</text>
<line x1="466.9" y1="119.8" x2="508.9" y2="119.8" stroke="#ff00ff" stroke-width="4.1" stroke-linecap="round"/>
<text x="514.0" y="127.3" font-size="23.3" font-weight="bold">3&#160;h</text>
<line x1="466.9" y1="149.3" x2="508.9" y2="149.3" stroke="#008000" stroke-width="4.1" stroke-linecap="round"/>
<text x="514.0" y="156.8" font-size="23.3" font-weight="bold">4&#160;h</text>
<line x1="466.9" y1="178.8" x2="508.9" y2="178.8" stroke="#000080" stroke-width="4.1" stroke-linecap="round"/>
<text x="514.0" y="186.3" font-size="23.3" font-weight="bold">7&#160;h</text>
<line x1="466.9" y1="208.3" x2="508.9" y2="208.3" stroke="#8000ff" stroke-width="4.1" stroke-linecap="round"/>
<text x="514.0" y="215.8" font-size="23.3" font-weight="bold">10&#160;h</text>
<line x1="466.9" y1="237.8" x2="508.9" y2="237.8" stroke="#800080" stroke-width="4.1" stroke-linecap="round"/>
<text x="514.0" y="245.3" font-size="23.3" font-weight="bold">24&#160;h</text>
<text transform="translate(32.3,199.0) rotate(-90)" font-size="23.5" font-weight="bold" text-anchor="middle">Abs</text>
<text x="337.5" y="431.8" font-size="23.6" font-weight="bold" letter-spacing="0.15" text-anchor="middle">Wavelength(nm)</text>
<text x="329.9" y="467.0" font-size="27" font-weight="bold" letter-spacing="1.4" text-anchor="middle">(a)</text>
<defs><linearGradient id="ag6969" x1="0" y1="9.7" x2="0" y2="70.8" gradientUnits="userSpaceOnUse"><stop offset="0" stop-color="#c2b5ab"/><stop offset="0.15" stop-color="#d0c8c2"/><stop offset="0.6" stop-color="#dcd7d3"/><stop offset="1" stop-color="#e5e2df"/></linearGradient><linearGradient id="lg6969" x1="0" y1="70.8" x2="0" y2="158.0" gradientUnits="userSpaceOnUse"><stop offset="0" stop-color="#de54ca"/><stop offset="0.690" stop-color="#d84cc2"/><stop offset="0.862" stop-color="#d84cc2"/><stop offset="0.892" stop-color="#c43aa6"/><stop offset="1" stop-color="#b8308f"/></linearGradient></defs>
<g filter="url(#soft)">
<rect x="696.0" y="9.7" width="45.5" height="150.3" fill="#ebe7e4"/>
<rect x="696.6" y="9.7" width="40.8" height="148.3" fill="#c9beb7"/>
<rect x="696.6" y="70.8" width="3.4" height="87.2" fill="#d7a6cb"/>
<rect x="732.3" y="70.8" width="5.1" height="87.2" fill="#c99fb6"/>
<rect x="696.0" y="9.7" width="45.5" height="2.5" fill="#bcaea4"/>
<path d="M699.5,12.2 L732.8,12.2 L732.8,67.5 Q732.3,69.8 725.8,69.8 L706.5,69.8 Q700.0,69.8 699.5,65.0 Z" fill="url(#ag6969)"/>
<path d="M699.5,65.0 Q700.0,70.8 706.5,70.8 L725.8,70.8 Q732.3,70.8 732.8,67.5 L732.8,157.0 L699.5,157.0 Z" fill="url(#lg6969)"/>
<path d="M699.5,65.0 Q700.3,68.1 707.5,68.1 L724.8,68.1 Q732.0,68.1 732.8,67.5 L732.8,69.7 Q731.8,73.5 724.8,73.5 L707.5,73.5 Q700.5,73.5 699.5,67.2 Z" fill="#9c0e78"/>
<rect x="696.6" y="156.5" width="40.8" height="1.5" fill="#b8308f" opacity="0.6"/>
</g>
<defs><linearGradient id="ag7472" x1="0" y1="9.7" x2="0" y2="70.0" gradientUnits="userSpaceOnUse"><stop offset="0" stop-color="#c2b5ab"/><stop offset="0.15" stop-color="#d0c8c2"/><stop offset="0.6" stop-color="#dcd7d3"/><stop offset="1" stop-color="#e5e2df"/></linearGradient><linearGradient id="lg7472" x1="0" y1="70.0" x2="0" y2="156.5" gradientUnits="userSpaceOnUse"><stop offset="0" stop-color="#dec0d7"/><stop offset="0.657" stop-color="#e3cbde"/><stop offset="0.821" stop-color="#e3cbde"/><stop offset="0.851" stop-color="#d6a6c8"/><stop offset="1" stop-color="#cf98bd"/></linearGradient></defs>
<g filter="url(#soft)">
<rect x="746.3" y="9.7" width="42.9" height="150.9" fill="#ebe7e4"/>
<rect x="746.6" y="9.7" width="42.4" height="146.8" fill="#d0c6c0"/>
<rect x="746.6" y="70.0" width="5.5" height="86.5" fill="#dcc2d0"/>
<rect x="784.0" y="70.0" width="5.0" height="86.5" fill="#d2b9c2"/>
<rect x="746.3" y="9.7" width="42.9" height="2.5" fill="#bcaea4"/>
<path d="M751.6,12.2 L784.5,12.2 L784.5,65.4 Q784.0,69.0 777.5,69.0 L758.6,69.0 Q752.1,69.0 751.6,61.7 Z" fill="url(#ag7472)"/>
<path d="M751.6,61.7 Q752.1,70.0 758.6,70.0 L777.5,70.0 Q784.0,70.0 784.5,65.4 L784.5,155.5 L751.6,155.5 Z" fill="url(#lg7472)"/>
<path d="M751.6,61.7 Q752.4,67.7 759.6,67.7 L776.5,67.7 Q783.7,67.7 784.5,65.4 L784.5,67.6 Q783.5,72.3 776.5,72.3 L759.6,72.3 Q752.6,72.3 751.6,63.9 Z" fill="#bc388a"/>
<rect x="746.6" y="155.0" width="42.4" height="1.5" fill="#cf98bd" opacity="0.6"/>
</g>
<text transform="translate(737.2,192.1) scale(1.13,1.02)" font-size="40" font-weight="bold" fill="#111" stroke="#111" stroke-width="0.6">I</text>
<text transform="translate(752.8,199.9) scale(1.15,1.04)" font-size="27" font-weight="bold" fill="#111" stroke="#111" stroke-width="0.5">2</text>
<polyline points="691.0,337.8 693.2,337.2 695.3,336.6 697.5,335.9 699.7,335.2 701.9,334.4 704.0,333.6 706.2,332.7 708.4,331.9 710.5,330.9 712.7,329.9 714.9,328.9 717.0,327.7 719.2,326.6 721.4,325.4 723.6,324.1 725.7,322.7 727.9,321.3 730.1,319.8 732.2,318.2 734.4,316.6 736.6,314.8 738.7,313.0 740.9,311.1 743.1,309.2 745.3,307.1 747.4,305.0 749.6,302.7 751.8,300.4 753.9,297.9 756.1,295.4 758.3,292.8 760.4,290.1 762.6,287.2 764.8,284.3 767.0,281.3 769.1,278.2 771.3,274.9 773.5,271.6 775.6,268.1 777.8,264.6 780.0,260.9 782.1,257.2 784.3,253.3 786.5,249.4 788.7,245.3 790.8,241.2 793.0,237.0 795.2,232.6 797.3,228.2 799.5,223.7 801.7,219.2 803.9,214.5 806.0,209.8 808.2,205.0 810.4,200.1 812.5,195.2 814.7,190.3 816.9,185.3 819.0,180.2 821.2,175.2 823.4,170.1 825.6,165.0 827.7,159.9 829.9,154.8 832.1,149.7 834.2,144.6 836.4,139.5 838.6,134.5 840.7,129.5 842.9,124.6 845.1,119.7 847.3,114.9 849.4,110.2 851.6,105.6 853.8,101.1 855.9,96.7 858.1,92.4 860.3,88.3 862.4,84.3 864.6,80.4 866.8,76.7 869.0,73.2 871.1,69.9 873.3,66.8 875.5,63.8 877.6,61.1 879.8,58.5 882.0,56.2 884.1,54.2 886.3,52.3 888.5,50.7 890.7,49.4 892.8,48.3 895.0,47.4 897.2,46.8 899.3,46.5 901.5,46.4 903.7,46.5 905.9,46.9 908.0,47.5 910.2,48.3 912.4,49.3 914.5,50.5 916.7,51.9 918.9,53.6 921.0,55.4 923.2,57.4 925.4,59.6 927.6,62.1 929.7,64.6 931.9,67.4 934.1,70.3 936.2,73.4 938.4,76.6 940.6,80.0 942.7,83.5 944.9,87.1 947.1,90.9 949.3,94.8 951.4,98.7 953.6,102.8 955.8,107.0 957.9,111.2 960.1,115.5 962.3,119.9 964.4,124.3 966.6,128.8 968.8,133.3 971.0,137.9 973.1,142.5 975.3,147.1 977.5,151.7 979.6,156.3 981.8,161.0 984.0,165.6 986.2,170.2 988.3,174.8 990.5,179.4 992.7,183.9 994.8,188.4 997.0,192.9 999.2,197.3 1001.3,201.7 1003.5,206.0 1005.7,210.2 1007.9,214.4 1010.0,218.6 1012.2,222.6 1014.4,226.6 1016.5,230.6 1018.7,234.4 1020.9,238.2 1023.0,241.8 1025.2,245.4 1027.4,249.0 1029.6,252.4 1031.7,255.7 1033.9,259.0 1036.1,262.2 1038.2,265.3 1040.4,268.3 1042.6,271.2 1044.7,274.0 1046.9,276.7 1049.1,279.3 1051.3,281.9 1053.4,284.4 1055.6,286.7 1057.8,289.0 1059.9,291.2 1062.1,293.4 1064.3,295.4 1066.4,297.4 1068.6,299.3 1070.8,301.1 1073.0,302.8 1075.1,304.5 1077.3,306.1 1079.5,307.6 1081.6,309.1 1083.8,310.5 1086.0,311.8 1088.2,313.1 1090.3,314.3 1092.5,315.4 1094.7,316.5 1096.8,317.5 1099.0,318.5 1101.2,319.5 1103.3,320.3 1105.5,321.2 1107.7,322.0 1109.9,322.7 1112.0,323.4 1114.2,324.1 1116.4,324.7 1118.5,325.3 1120.7,325.9 1122.9,326.4 1125.0,326.9 1127.2,327.4 1129.4,327.8 1131.6,328.2 1133.7,328.6 1135.9,329.0 1138.1,329.3 1140.2,329.6 1142.4,329.9 1144.6,330.2 1146.7,330.4 1148.9,330.7 1151.1,330.9 1153.3,331.1 1155.4,331.3 1157.6,331.5 1159.8,331.6 1161.9,331.8 1164.1,331.9 1166.3,332.0 1168.4,332.2 1170.6,332.3 1172.8,332.4 1175.0,332.5 1177.1,332.5 1179.3,332.6" fill="none" stroke="#000000" stroke-width="3.6" stroke-linejoin="round"/>
<polyline points="691.0,336.1 693.2,335.5 695.3,335.0 697.5,334.4 699.7,333.8 701.9,333.1 704.0,332.5 706.2,331.8 708.4,331.0 710.5,330.3 712.7,329.4 714.9,328.6 717.0,327.7 719.2,326.8 721.4,325.8 723.6,324.8 725.7,323.8 727.9,322.7 730.1,321.5 732.2,320.3 734.4,319.1 736.6,317.8 738.7,316.4 740.9,315.0 743.1,313.6 745.3,312.1 747.4,310.5 749.6,308.9 751.8,307.2 753.9,305.4 756.1,303.6 758.3,301.7 760.4,299.8 762.6,297.8 764.8,295.8 767.0,293.6 769.1,291.5 771.3,289.2 773.5,286.9 775.6,284.5 777.8,282.1 780.0,279.6 782.1,277.0 784.3,274.4 786.5,271.7 788.7,268.9 790.8,266.1 793.0,263.2 795.2,260.3 797.3,257.4 799.5,254.3 801.7,251.3 803.9,248.1 806.0,245.0 808.2,241.8 810.4,238.5 812.5,235.2 814.7,231.9 816.9,228.6 819.0,225.2 821.2,221.8 823.4,218.4 825.6,215.0 827.7,211.5 829.9,208.1 832.1,204.7 834.2,201.3 836.4,197.8 838.6,194.5 840.7,191.1 842.9,187.7 845.1,184.4 847.3,181.2 849.4,178.0 851.6,174.8 853.8,171.7 855.9,168.7 858.1,165.7 860.3,162.9 862.4,160.1 864.6,157.4 866.8,154.8 869.0,152.3 871.1,150.0 873.3,147.7 875.5,145.6 877.6,143.6 879.8,141.8 882.0,140.1 884.1,138.6 886.3,137.2 888.5,136.0 890.7,135.0 892.8,134.1 895.0,133.4 897.2,132.9 899.3,132.5 901.5,132.4 903.7,132.4 905.9,132.5 908.0,132.9 910.2,133.4 912.4,134.1 914.5,134.9 916.7,135.9 918.9,137.1 921.0,138.4 923.2,139.8 925.4,141.4 927.6,143.1 929.7,145.0 931.9,147.0 934.1,149.1 936.2,151.3 938.4,153.7 940.6,156.1 942.7,158.7 944.9,161.3 947.1,164.0 949.3,166.8 951.4,169.6 953.6,172.6 955.8,175.6 957.9,178.6 960.1,181.7 962.3,184.8 964.4,188.0 966.6,191.2 968.8,194.4 971.0,197.6 973.1,200.9 975.3,204.2 977.5,207.4 979.6,210.7 981.8,213.9 984.0,217.2 986.2,220.4 988.3,223.6 990.5,226.8 992.7,230.0 994.8,233.2 997.0,236.3 999.2,239.4 1001.3,242.4 1003.5,245.4 1005.7,248.4 1007.9,251.3 1010.0,254.2 1012.2,257.0 1014.4,259.7 1016.5,262.5 1018.7,265.1 1020.9,267.7 1023.0,270.3 1025.2,272.8 1027.4,275.2 1029.6,277.6 1031.7,279.9 1033.9,282.2 1036.1,284.4 1038.2,286.5 1040.4,288.6 1042.6,290.6 1044.7,292.6 1046.9,294.5 1049.1,296.3 1051.3,298.1 1053.4,299.8 1055.6,301.5 1057.8,303.1 1059.9,304.6 1062.1,306.1 1064.3,307.6 1066.4,309.0 1068.6,310.3 1070.8,311.6 1073.0,312.8 1075.1,314.0 1077.3,315.1 1079.5,316.2 1081.6,317.3 1083.8,318.2 1086.0,319.2 1088.2,320.1 1090.3,321.0 1092.5,321.8 1094.7,322.6 1096.8,323.4 1099.0,324.1 1101.2,324.8 1103.3,325.4 1105.5,326.1 1107.7,326.7 1109.9,327.2 1112.0,327.8 1114.2,328.3 1116.4,328.8 1118.5,329.2 1120.7,329.7 1122.9,330.1 1125.0,330.5 1127.2,330.8 1129.4,331.2 1131.6,331.5 1133.7,331.8 1135.9,332.1 1138.1,332.4 1140.2,332.7 1142.4,332.9 1144.6,333.2 1146.7,333.4 1148.9,333.6 1151.1,333.8 1153.3,334.0 1155.4,334.2 1157.6,334.3 1159.8,334.5 1161.9,334.6 1164.1,334.8 1166.3,334.9 1168.4,335.1 1170.6,335.2 1172.8,335.3 1175.0,335.4 1177.1,335.5 1179.3,335.6" fill="none" stroke="#ff0000" stroke-width="3.6" stroke-linejoin="round"/>
<polyline points="691.0,327.6 693.2,327.4 695.3,327.1 697.5,326.9 699.7,326.6 701.9,326.3 704.0,325.9 706.2,325.6 708.4,325.2 710.5,324.8 712.7,324.4 714.9,323.9 717.0,323.4 719.2,322.9 721.4,322.3 723.6,321.7 725.7,321.1 727.9,320.4 730.1,319.7 732.2,319.0 734.4,318.2 736.6,317.4 738.7,316.5 740.9,315.6 743.1,314.6 745.3,313.6 747.4,312.5 749.6,311.4 751.8,310.3 753.9,309.1 756.1,307.8 758.3,306.5 760.4,305.1 762.6,303.7 764.8,302.2 767.0,300.6 769.1,299.0 771.3,297.4 773.5,295.6 775.6,293.9 777.8,292.0 780.0,290.2 782.1,288.2 784.3,286.2 786.5,284.2 788.7,282.1 790.8,279.9 793.0,277.7 795.2,275.5 797.3,273.2 799.5,270.9 801.7,268.5 803.9,266.1 806.0,263.6 808.2,261.1 810.4,258.6 812.5,256.1 814.7,253.5 816.9,250.9 819.0,248.3 821.2,245.7 823.4,243.1 825.6,240.5 827.7,237.8 829.9,235.2 832.1,232.6 834.2,230.0 836.4,227.5 838.6,224.9 840.7,222.4 842.9,219.9 845.1,217.5 847.3,215.1 849.4,212.8 851.6,210.5 853.8,208.3 855.9,206.1 858.1,204.0 860.3,202.0 862.4,200.1 864.6,198.2 866.8,196.5 869.0,194.8 871.1,193.2 873.3,191.8 875.5,190.4 877.6,189.2 879.8,188.0 882.0,187.0 884.1,186.1 886.3,185.3 888.5,184.6 890.7,184.1 892.8,183.7 895.0,183.4 897.2,183.2 899.3,183.2 901.5,183.3 903.7,183.4 905.9,183.7 908.0,184.1 910.2,184.6 912.4,185.2 914.5,185.9 916.7,186.7 918.9,187.5 921.0,188.5 923.2,189.6 925.4,190.7 927.6,192.0 929.7,193.3 931.9,194.7 934.1,196.2 936.2,197.8 938.4,199.5 940.6,201.2 942.7,203.0 944.9,204.8 947.1,206.7 949.3,208.7 951.4,210.7 953.6,212.8 955.8,214.9 957.9,217.1 960.1,219.3 962.3,221.6 964.4,223.8 966.6,226.2 968.8,228.5 971.0,230.8 973.1,233.2 975.3,235.6 977.5,238.0 979.6,240.4 981.8,242.8 984.0,245.2 986.2,247.6 988.3,250.0 990.5,252.4 992.7,254.8 994.8,257.1 997.0,259.5 999.2,261.8 1001.3,264.1 1003.5,266.3 1005.7,268.6 1007.9,270.8 1010.0,273.0 1012.2,275.1 1014.4,277.3 1016.5,279.3 1018.7,281.4 1020.9,283.4 1023.0,285.3 1025.2,287.2 1027.4,289.1 1029.6,290.9 1031.7,292.7 1033.9,294.5 1036.1,296.2 1038.2,297.8 1040.4,299.4 1042.6,301.0 1044.7,302.5 1046.9,304.0 1049.1,305.4 1051.3,306.8 1053.4,308.1 1055.6,309.4 1057.8,310.6 1059.9,311.8 1062.1,313.0 1064.3,314.1 1066.4,315.1 1068.6,316.2 1070.8,317.2 1073.0,318.1 1075.1,319.0 1077.3,319.9 1079.5,320.7 1081.6,321.5 1083.8,322.3 1086.0,323.0 1088.2,323.7 1090.3,324.4 1092.5,325.0 1094.7,325.6 1096.8,326.2 1099.0,326.7 1101.2,327.2 1103.3,327.7 1105.5,328.2 1107.7,328.6 1109.9,329.1 1112.0,329.5 1114.2,329.8 1116.4,330.2 1118.5,330.5 1120.7,330.9 1122.9,331.2 1125.0,331.5 1127.2,331.7 1129.4,332.0 1131.6,332.2 1133.7,332.4 1135.9,332.7 1138.1,332.9 1140.2,333.1 1142.4,333.2 1144.6,333.4 1146.7,333.6 1148.9,333.7 1151.1,333.9 1153.3,334.0 1155.4,334.1 1157.6,334.2 1159.8,334.3 1161.9,334.4 1164.1,334.5 1166.3,334.6 1168.4,334.7 1170.6,334.8 1172.8,334.9 1175.0,335.0 1177.1,335.0 1179.3,335.1" fill="none" stroke="#0000ff" stroke-width="3.6" stroke-linejoin="round"/>
<polyline points="691.0,329.1 693.2,328.9 695.3,328.7 697.5,328.4 699.7,328.2 701.9,327.9 704.0,327.6 706.2,327.2 708.4,326.9 710.5,326.5 712.7,326.1 714.9,325.7 717.0,325.3 719.2,324.8 721.4,324.3 723.6,323.8 725.7,323.2 727.9,322.6 730.1,322.0 732.2,321.3 734.4,320.6 736.6,319.9 738.7,319.1 740.9,318.3 743.1,317.5 745.3,316.6 747.4,315.7 749.6,314.7 751.8,313.7 753.9,312.6 756.1,311.5 758.3,310.4 760.4,309.2 762.6,307.9 764.8,306.7 767.0,305.3 769.1,304.0 771.3,302.5 773.5,301.1 775.6,299.6 777.8,298.0 780.0,296.4 782.1,294.7 784.3,293.1 786.5,291.3 788.7,289.5 790.8,287.7 793.0,285.8 795.2,283.9 797.3,282.0 799.5,280.0 801.7,278.0 803.9,276.0 806.0,273.9 808.2,271.8 810.4,269.7 812.5,267.6 814.7,265.4 816.9,263.2 819.0,261.0 821.2,258.8 823.4,256.6 825.6,254.4 827.7,252.2 829.9,250.0 832.1,247.8 834.2,245.6 836.4,243.4 838.6,241.3 840.7,239.1 842.9,237.0 845.1,235.0 847.3,232.9 849.4,230.9 851.6,229.0 853.8,227.1 855.9,225.2 858.1,223.4 860.3,221.7 862.4,220.0 864.6,218.4 866.8,216.9 869.0,215.4 871.1,214.1 873.3,212.8 875.5,211.5 877.6,210.4 879.8,209.4 882.0,208.4 884.1,207.6 886.3,206.8 888.5,206.2 890.7,205.6 892.8,205.1 895.0,204.8 897.2,204.5 899.3,204.4 901.5,204.3 903.7,204.4 905.9,204.5 908.0,204.8 910.2,205.1 912.4,205.5 914.5,206.1 916.7,206.7 918.9,207.4 921.0,208.1 923.2,209.0 925.4,209.9 927.6,211.0 929.7,212.1 931.9,213.3 934.1,214.5 936.2,215.9 938.4,217.3 940.6,218.7 942.7,220.3 944.9,221.9 947.1,223.5 949.3,225.2 951.4,227.0 953.6,228.8 955.8,230.6 957.9,232.5 960.1,234.4 962.3,236.4 964.4,238.4 966.6,240.4 968.8,242.4 971.0,244.5 973.1,246.6 975.3,248.7 977.5,250.8 979.6,252.9 981.8,255.0 984.0,257.2 986.2,259.3 988.3,261.4 990.5,263.5 992.7,265.6 994.8,267.7 997.0,269.8 999.2,271.8 1001.3,273.9 1003.5,275.9 1005.7,277.9 1007.9,279.8 1010.0,281.8 1012.2,283.7 1014.4,285.5 1016.5,287.4 1018.7,289.2 1020.9,291.0 1023.0,292.7 1025.2,294.4 1027.4,296.0 1029.6,297.7 1031.7,299.2 1033.9,300.8 1036.1,302.3 1038.2,303.7 1040.4,305.2 1042.6,306.5 1044.7,307.9 1046.9,309.2 1049.1,310.4 1051.3,311.6 1053.4,312.8 1055.6,313.9 1057.8,315.0 1059.9,316.1 1062.1,317.1 1064.3,318.0 1066.4,319.0 1068.6,319.9 1070.8,320.7 1073.0,321.6 1075.1,322.4 1077.3,323.1 1079.5,323.9 1081.6,324.5 1083.8,325.2 1086.0,325.8 1088.2,326.4 1090.3,327.0 1092.5,327.6 1094.7,328.1 1096.8,328.6 1099.0,329.1 1101.2,329.5 1103.3,329.9 1105.5,330.3 1107.7,330.7 1109.9,331.1 1112.0,331.4 1114.2,331.7 1116.4,332.0 1118.5,332.3 1120.7,332.6 1122.9,332.9 1125.0,333.1 1127.2,333.3 1129.4,333.6 1131.6,333.8 1133.7,334.0 1135.9,334.1 1138.1,334.3 1140.2,334.5 1142.4,334.6 1144.6,334.8 1146.7,334.9 1148.9,335.0 1151.1,335.1 1153.3,335.3 1155.4,335.4 1157.6,335.5 1159.8,335.6 1161.9,335.6 1164.1,335.7 1166.3,335.8 1168.4,335.9 1170.6,335.9 1172.8,336.0 1175.0,336.1 1177.1,336.1 1179.3,336.2" fill="none" stroke="#ff00ff" stroke-width="3.6" stroke-linejoin="round"/>
<polyline points="691.0,326.0 693.2,325.9 695.3,325.7 697.5,325.5 699.7,325.2 701.9,325.0 704.0,324.8 706.2,324.5 708.4,324.2 710.5,323.9 712.7,323.6 714.9,323.3 717.0,322.9 719.2,322.5 721.4,322.1 723.6,321.7 725.7,321.2 727.9,320.8 730.1,320.3 732.2,319.8 734.4,319.2 736.6,318.6 738.7,318.0 740.9,317.4 743.1,316.7 745.3,316.0 747.4,315.3 749.6,314.5 751.8,313.7 753.9,312.9 756.1,312.0 758.3,311.1 760.4,310.2 762.6,309.2 764.8,308.2 767.0,307.2 769.1,306.1 771.3,305.0 773.5,303.8 775.6,302.6 777.8,301.4 780.0,300.1 782.1,298.8 784.3,297.5 786.5,296.1 788.7,294.7 790.8,293.3 793.0,291.8 795.2,290.3 797.3,288.8 799.5,287.2 801.7,285.6 803.9,284.0 806.0,282.4 808.2,280.7 810.4,279.0 812.5,277.3 814.7,275.6 816.9,273.8 819.0,272.1 821.2,270.3 823.4,268.6 825.6,266.8 827.7,265.0 829.9,263.2 832.1,261.4 834.2,259.7 836.4,257.9 838.6,256.2 840.7,254.4 842.9,252.7 845.1,251.0 847.3,249.4 849.4,247.7 851.6,246.1 853.8,244.5 855.9,243.0 858.1,241.5 860.3,240.1 862.4,238.7 864.6,237.3 866.8,236.1 869.0,234.8 871.1,233.7 873.3,232.6 875.5,231.5 877.6,230.6 879.8,229.7 882.0,228.9 884.1,228.1 886.3,227.5 888.5,226.9 890.7,226.4 892.8,226.0 895.0,225.6 897.2,225.4 899.3,225.3 901.5,225.2 903.7,225.2 905.9,225.3 908.0,225.5 910.2,225.8 912.4,226.1 914.5,226.5 916.7,226.9 918.9,227.5 921.0,228.1 923.2,228.8 925.4,229.5 927.6,230.3 929.7,231.2 931.9,232.2 934.1,233.2 936.2,234.2 938.4,235.3 940.6,236.5 942.7,237.7 944.9,239.0 947.1,240.3 949.3,241.6 951.4,243.0 953.6,244.5 955.8,245.9 957.9,247.4 960.1,248.9 962.3,250.5 964.4,252.1 966.6,253.7 968.8,255.3 971.0,256.9 973.1,258.6 975.3,260.2 977.5,261.9 979.6,263.6 981.8,265.3 984.0,266.9 986.2,268.6 988.3,270.3 990.5,272.0 992.7,273.6 994.8,275.3 997.0,276.9 999.2,278.6 1001.3,280.2 1003.5,281.8 1005.7,283.4 1007.9,284.9 1010.0,286.5 1012.2,288.0 1014.4,289.5 1016.5,291.0 1018.7,292.4 1020.9,293.8 1023.0,295.2 1025.2,296.6 1027.4,297.9 1029.6,299.3 1031.7,300.5 1033.9,301.8 1036.1,303.0 1038.2,304.2 1040.4,305.3 1042.6,306.5 1044.7,307.6 1046.9,308.6 1049.1,309.7 1051.3,310.7 1053.4,311.6 1055.6,312.6 1057.8,313.5 1059.9,314.4 1062.1,315.2 1064.3,316.0 1066.4,316.8 1068.6,317.6 1070.8,318.3 1073.0,319.0 1075.1,319.7 1077.3,320.3 1079.5,320.9 1081.6,321.5 1083.8,322.1 1086.0,322.7 1088.2,323.2 1090.3,323.7 1092.5,324.2 1094.7,324.6 1096.8,325.1 1099.0,325.5 1101.2,325.9 1103.3,326.3 1105.5,326.7 1107.7,327.0 1109.9,327.3 1112.0,327.6 1114.2,327.9 1116.4,328.2 1118.5,328.5 1120.7,328.8 1122.9,329.0 1125.0,329.2 1127.2,329.5 1129.4,329.7 1131.6,329.9 1133.7,330.0 1135.9,330.2 1138.1,330.4 1140.2,330.6 1142.4,330.7 1144.6,330.8 1146.7,331.0 1148.9,331.1 1151.1,331.2 1153.3,331.4 1155.4,331.5 1157.6,331.6 1159.8,331.7 1161.9,331.8 1164.1,331.9 1166.3,331.9 1168.4,332.0 1170.6,332.1 1172.8,332.2 1175.0,332.2 1177.1,332.3 1179.3,332.4" fill="none" stroke="#008000" stroke-width="3.6" stroke-linejoin="round"/>
<polyline points="691.0,341.6 693.2,341.4 695.3,341.1 697.5,340.8 699.7,340.5 701.9,340.2 704.0,339.9 706.2,339.5 708.4,339.1 710.5,338.7 712.7,338.3 714.9,337.9 717.0,337.5 719.2,337.0 721.4,336.5 723.6,336.0 725.7,335.4 727.9,334.8 730.1,334.2 732.2,333.6 734.4,333.0 736.6,332.3 738.7,331.6 740.9,330.8 743.1,330.1 745.3,329.2 747.4,328.4 749.6,327.5 751.8,326.6 753.9,325.7 756.1,324.7 758.3,323.7 760.4,322.7 762.6,321.6 764.8,320.5 767.0,319.4 769.1,318.2 771.3,317.0 773.5,315.7 775.6,314.4 777.8,313.1 780.0,311.8 782.1,310.4 784.3,309.0 786.5,307.5 788.7,306.1 790.8,304.5 793.0,303.0 795.2,301.4 797.3,299.8 799.5,298.2 801.7,296.6 803.9,294.9 806.0,293.2 808.2,291.5 810.4,289.8 812.5,288.0 814.7,286.3 816.9,284.5 819.0,282.8 821.2,281.0 823.4,279.2 825.6,277.4 827.7,275.6 829.9,273.8 832.1,272.1 834.2,270.3 836.4,268.6 838.6,266.8 840.7,265.1 842.9,263.4 845.1,261.7 847.3,260.1 849.4,258.5 851.6,256.9 853.8,255.4 855.9,253.9 858.1,252.4 860.3,251.0 862.4,249.6 864.6,248.3 866.8,247.0 869.0,245.8 871.1,244.7 873.3,243.6 875.5,242.6 877.6,241.7 879.8,240.8 882.0,240.0 884.1,239.2 886.3,238.6 888.5,238.0 890.7,237.5 892.8,237.1 895.0,236.7 897.2,236.5 899.3,236.3 901.5,236.2 903.7,236.2 905.9,236.3 908.0,236.4 910.2,236.7 912.4,237.0 914.5,237.4 916.7,237.8 918.9,238.4 921.0,239.0 923.2,239.7 925.4,240.5 927.6,241.3 929.7,242.2 931.9,243.2 934.1,244.3 936.2,245.4 938.4,246.5 940.6,247.7 942.7,249.0 944.9,250.3 947.1,251.7 949.3,253.1 951.4,254.6 953.6,256.1 955.8,257.6 957.9,259.2 960.1,260.7 962.3,262.4 964.4,264.0 966.6,265.7 968.8,267.3 971.0,269.0 973.1,270.7 975.3,272.5 977.5,274.2 979.6,275.9 981.8,277.6 984.0,279.3 986.2,281.1 988.3,282.8 990.5,284.5 992.7,286.2 994.8,287.8 997.0,289.5 999.2,291.2 1001.3,292.8 1003.5,294.4 1005.7,296.0 1007.9,297.5 1010.0,299.1 1012.2,300.6 1014.4,302.0 1016.5,303.5 1018.7,304.9 1020.9,306.3 1023.0,307.6 1025.2,309.0 1027.4,310.3 1029.6,311.5 1031.7,312.7 1033.9,313.9 1036.1,315.1 1038.2,316.2 1040.4,317.3 1042.6,318.3 1044.7,319.3 1046.9,320.3 1049.1,321.3 1051.3,322.2 1053.4,323.1 1055.6,323.9 1057.8,324.7 1059.9,325.5 1062.1,326.2 1064.3,327.0 1066.4,327.6 1068.6,328.3 1070.8,328.9 1073.0,329.5 1075.1,330.1 1077.3,330.6 1079.5,331.2 1081.6,331.6 1083.8,332.1 1086.0,332.6 1088.2,333.0 1090.3,333.4 1092.5,333.8 1094.7,334.1 1096.8,334.5 1099.0,334.8 1101.2,335.1 1103.3,335.4 1105.5,335.6 1107.7,335.9 1109.9,336.1 1112.0,336.3 1114.2,336.5 1116.4,336.7 1118.5,336.9 1120.7,337.1 1122.9,337.2 1125.0,337.4 1127.2,337.5 1129.4,337.6 1131.6,337.7 1133.7,337.8 1135.9,337.9 1138.1,338.0 1140.2,338.1 1142.4,338.2 1144.6,338.3 1146.7,338.3 1148.9,338.4 1151.1,338.4 1153.3,338.5 1155.4,338.5 1157.6,338.5 1159.8,338.6 1161.9,338.6 1164.1,338.6 1166.3,338.7 1168.4,338.7 1170.6,338.7 1172.8,338.7 1175.0,338.7 1177.1,338.7 1179.3,338.7" fill="none" stroke="#000080" stroke-width="3.6" stroke-linejoin="round"/>
<polyline points="691.0,330.6 693.2,330.4 695.3,330.2 697.5,330.0 699.7,329.8 701.9,329.5 704.0,329.3 706.2,329.0 708.4,328.7 710.5,328.4 712.7,328.0 714.9,327.7 717.0,327.3 719.2,326.9 721.4,326.5 723.6,326.1 725.7,325.6 727.9,325.1 730.1,324.6 732.2,324.1 734.4,323.6 736.6,323.0 738.7,322.4 740.9,321.7 743.1,321.1 745.3,320.4 747.4,319.7 749.6,318.9 751.8,318.1 753.9,317.3 756.1,316.5 758.3,315.6 760.4,314.7 762.6,313.7 764.8,312.8 767.0,311.8 769.1,310.7 771.3,309.7 773.5,308.6 775.6,307.4 777.8,306.3 780.0,305.1 782.1,303.8 784.3,302.6 786.5,301.3 788.7,300.0 790.8,298.6 793.0,297.3 795.2,295.9 797.3,294.4 799.5,293.0 801.7,291.5 803.9,290.0 806.0,288.5 808.2,287.0 810.4,285.4 812.5,283.9 814.7,282.3 816.9,280.7 819.0,279.1 821.2,277.5 823.4,275.9 825.6,274.3 827.7,272.7 829.9,271.1 832.1,269.5 834.2,268.0 836.4,266.4 838.6,264.8 840.7,263.3 842.9,261.8 845.1,260.3 847.3,258.8 849.4,257.4 851.6,256.0 853.8,254.6 855.9,253.3 858.1,252.0 860.3,250.8 862.4,249.6 864.6,248.4 866.8,247.3 869.0,246.3 871.1,245.3 873.3,244.4 875.5,243.5 877.6,242.7 879.8,242.0 882.0,241.3 884.1,240.7 886.3,240.2 888.5,239.8 890.7,239.4 892.8,239.1 895.0,238.9 897.2,238.8 899.3,238.7 901.5,238.8 903.7,238.9 905.9,239.0 908.0,239.3 910.2,239.6 912.4,239.9 914.5,240.4 916.7,240.9 918.9,241.5 921.0,242.1 923.2,242.8 925.4,243.6 927.6,244.4 929.7,245.3 931.9,246.3 934.1,247.3 936.2,248.3 938.4,249.4 940.6,250.6 942.7,251.7 944.9,253.0 947.1,254.2 949.3,255.5 951.4,256.9 953.6,258.3 955.8,259.7 957.9,261.1 960.1,262.5 962.3,264.0 964.4,265.5 966.6,267.0 968.8,268.5 971.0,270.1 973.1,271.6 975.3,273.2 977.5,274.7 979.6,276.3 981.8,277.8 984.0,279.4 986.2,280.9 988.3,282.4 990.5,284.0 992.7,285.5 994.8,287.0 997.0,288.5 999.2,290.0 1001.3,291.5 1003.5,292.9 1005.7,294.3 1007.9,295.7 1010.0,297.1 1012.2,298.5 1014.4,299.8 1016.5,301.1 1018.7,302.4 1020.9,303.7 1023.0,304.9 1025.2,306.1 1027.4,307.3 1029.6,308.4 1031.7,309.5 1033.9,310.6 1036.1,311.7 1038.2,312.7 1040.4,313.7 1042.6,314.7 1044.7,315.6 1046.9,316.6 1049.1,317.4 1051.3,318.3 1053.4,319.1 1055.6,319.9 1057.8,320.7 1059.9,321.4 1062.1,322.1 1064.3,322.8 1066.4,323.5 1068.6,324.1 1070.8,324.7 1073.0,325.3 1075.1,325.9 1077.3,326.4 1079.5,326.9 1081.6,327.4 1083.8,327.9 1086.0,328.3 1088.2,328.8 1090.3,329.2 1092.5,329.6 1094.7,329.9 1096.8,330.3 1099.0,330.6 1101.2,330.9 1103.3,331.2 1105.5,331.5 1107.7,331.8 1109.9,332.1 1112.0,332.3 1114.2,332.6 1116.4,332.8 1118.5,333.0 1120.7,333.2 1122.9,333.4 1125.0,333.6 1127.2,333.7 1129.4,333.9 1131.6,334.0 1133.7,334.2 1135.9,334.3 1138.1,334.5 1140.2,334.6 1142.4,334.7 1144.6,334.8 1146.7,334.9 1148.9,335.0 1151.1,335.1 1153.3,335.2 1155.4,335.3 1157.6,335.3 1159.8,335.4 1161.9,335.5 1164.1,335.6 1166.3,335.6 1168.4,335.7 1170.6,335.7 1172.8,335.8 1175.0,335.8 1177.1,335.9 1179.3,335.9" fill="none" stroke="#8000ff" stroke-width="3.6" stroke-linejoin="round"/>
<rect x="691.0" y="4.8" width="488.3" height="362.7" fill="none" stroke="#000" stroke-width="3.8"/>
<line x1="691.0" y1="367.5" x2="691.0" y2="371.5" stroke="#000" stroke-width="3.4" stroke-linecap="round"/>
<line x1="745.3" y1="367.5" x2="745.3" y2="375.1" stroke="#000" stroke-width="3.4" stroke-linecap="round"/>
<text transform="translate(745.3,398.1) scale(1,0.985)" font-size="23.5" font-weight="bold" text-anchor="middle">450</text>
<line x1="799.5" y1="367.5" x2="799.5" y2="371.5" stroke="#000" stroke-width="3.4" stroke-linecap="round"/>
<line x1="853.8" y1="367.5" x2="853.8" y2="375.1" stroke="#000" stroke-width="3.4" stroke-linecap="round"/>
<text transform="translate(853.8,398.1) scale(1,0.985)" font-size="23.5" font-weight="bold" text-anchor="middle">500</text>
<line x1="908.0" y1="367.5" x2="908.0" y2="371.5" stroke="#000" stroke-width="3.4" stroke-linecap="round"/>
<line x1="962.3" y1="367.5" x2="962.3" y2="375.1" stroke="#000" stroke-width="3.4" stroke-linecap="round"/>
<text transform="translate(962.3,398.1) scale(1,0.985)" font-size="23.5" font-weight="bold" text-anchor="middle">550</text>
<line x1="1016.5" y1="367.5" x2="1016.5" y2="371.5" stroke="#000" stroke-width="3.4" stroke-linecap="round"/>
<line x1="1070.8" y1="367.5" x2="1070.8" y2="375.1" stroke="#000" stroke-width="3.4" stroke-linecap="round"/>
<text transform="translate(1070.8,398.1) scale(1,0.985)" font-size="23.5" font-weight="bold" text-anchor="middle">600</text>
<line x1="1125.0" y1="367.5" x2="1125.0" y2="371.5" stroke="#000" stroke-width="3.4" stroke-linecap="round"/>
<line x1="1179.3" y1="367.5" x2="1179.3" y2="375.1" stroke="#000" stroke-width="3.4" stroke-linecap="round"/>
<text transform="translate(1179.3,398.1) scale(1,0.985)" font-size="23.5" font-weight="bold" text-anchor="middle">650</text>
<line x1="687.8" y1="367.5" x2="691.0" y2="367.5" stroke="#000" stroke-width="3.4" stroke-linecap="round"/>
<line x1="684.0" y1="337.3" x2="691.0" y2="337.3" stroke="#000" stroke-width="3.4" stroke-linecap="round"/>
<text transform="translate(678.6,344.6) scale(1,1.035)" font-size="23.5" font-weight="bold" text-anchor="end">0.0</text>
<line x1="687.8" y1="307.1" x2="691.0" y2="307.1" stroke="#000" stroke-width="3.4" stroke-linecap="round"/>
<line x1="684.0" y1="276.8" x2="691.0" y2="276.8" stroke="#000" stroke-width="3.4" stroke-linecap="round"/>
<text transform="translate(678.6,284.1) scale(1,1.035)" font-size="23.5" font-weight="bold" text-anchor="end">0.1</text>
<line x1="687.8" y1="246.6" x2="691.0" y2="246.6" stroke="#000" stroke-width="3.4" stroke-linecap="round"/>
<line x1="684.0" y1="216.4" x2="691.0" y2="216.4" stroke="#000" stroke-width="3.4" stroke-linecap="round"/>
<text transform="translate(678.6,223.7) scale(1,1.035)" font-size="23.5" font-weight="bold" text-anchor="end">0.2</text>
<line x1="687.8" y1="186.2" x2="691.0" y2="186.2" stroke="#000" stroke-width="3.4" stroke-linecap="round"/>
<line x1="684.0" y1="155.9" x2="691.0" y2="155.9" stroke="#000" stroke-width="3.4" stroke-linecap="round"/>
<text transform="translate(678.6,163.2) scale(1,1.035)" font-size="23.5" font-weight="bold" text-anchor="end">0.3</text>
<line x1="687.8" y1="125.7" x2="691.0" y2="125.7" stroke="#000" stroke-width="3.4" stroke-linecap="round"/>
<line x1="684.0" y1="95.5" x2="691.0" y2="95.5" stroke="#000" stroke-width="3.4" stroke-linecap="round"/>
<text transform="translate(678.6,102.8) scale(1,1.035)" font-size="23.5" font-weight="bold" text-anchor="end">0.4</text>
<line x1="687.8" y1="65.3" x2="691.0" y2="65.3" stroke="#000" stroke-width="3.4" stroke-linecap="round"/>
<line x1="684.0" y1="35.0" x2="691.0" y2="35.0" stroke="#000" stroke-width="3.4" stroke-linecap="round"/>
<text transform="translate(678.6,42.3) scale(1,1.035)" font-size="23.5" font-weight="bold" text-anchor="end">0.5</text>
<line x1="687.8" y1="4.8" x2="691.0" y2="4.8" stroke="#000" stroke-width="3.4" stroke-linecap="round"/>
<line x1="1063.8" y1="38.9" x2="1105.6" y2="38.9" stroke="#000000" stroke-width="4.1" stroke-linecap="round"/>
<text x="1111.5" y="46.4" font-size="23.3" font-weight="bold">0&#160;h</text>
<line x1="1063.8" y1="68.8" x2="1105.6" y2="68.8" stroke="#ff0000" stroke-width="4.1" stroke-linecap="round"/>
<text x="1111.5" y="76.3" font-size="23.3" font-weight="bold">1&#160;h</text>
<line x1="1063.8" y1="98.7" x2="1105.6" y2="98.7" stroke="#0000ff" stroke-width="4.1" stroke-linecap="round"/>
<text x="1111.5" y="106.2" font-size="23.3" font-weight="bold">2&#160;h</text>
<line x1="1063.8" y1="128.6" x2="1105.6" y2="128.6" stroke="#ff00ff" stroke-width="4.1" stroke-linecap="round"/>
<text x="1111.5" y="136.1" font-size="23.3" font-weight="bold">3&#160;h</text>
<line x1="1063.8" y1="158.5" x2="1105.6" y2="158.5" stroke="#008000" stroke-width="4.1" stroke-linecap="round"/>
<text x="1111.5" y="166.0" font-size="23.3" font-weight="bold">7&#160;h</text>
<line x1="1063.8" y1="188.4" x2="1105.6" y2="188.4" stroke="#000080" stroke-width="4.1" stroke-linecap="round"/>
<text x="1111.5" y="195.9" font-size="23.3" font-weight="bold">10&#160;h</text>
<line x1="1063.8" y1="218.3" x2="1105.6" y2="218.3" stroke="#8000ff" stroke-width="4.1" stroke-linecap="round"/>
<text x="1111.5" y="225.8" font-size="23.3" font-weight="bold">24&#160;h</text>
<text transform="translate(632.9,199.3) rotate(-90)" font-size="23.5" font-weight="bold" text-anchor="middle">Abs</text>
<text x="935.4" y="432.6" font-size="23.6" font-weight="bold" letter-spacing="0.15" text-anchor="middle">Wavelength(nm)</text>
<text x="924.0" y="471.3" font-size="27" font-weight="bold" letter-spacing="1.4" text-anchor="middle">(b)</text>
<defs><linearGradient id="ag1416" x1="0" y1="509.7" x2="0" y2="571.7" gradientUnits="userSpaceOnUse"><stop offset="0" stop-color="#c2b5ab"/><stop offset="0.15" stop-color="#d0c8c2"/><stop offset="0.6" stop-color="#dcd7d3"/><stop offset="1" stop-color="#e5e2df"/></linearGradient><linearGradient id="lg1416" x1="0" y1="571.7" x2="0" y2="658.0" gradientUnits="userSpaceOnUse"><stop offset="0" stop-color="#de54ca"/><stop offset="0.679" stop-color="#d84cc2"/><stop offset="0.849" stop-color="#d84cc2"/><stop offset="0.879" stop-color="#c43aa6"/><stop offset="1" stop-color="#b8308f"/></linearGradient></defs>
<g filter="url(#soft)">
<rect x="90.7" y="509.7" width="44.6" height="150.3" fill="#ebe7e4"/>
<rect x="90.6" y="509.7" width="40.4" height="148.3" fill="#c9beb7"/>
<rect x="90.6" y="571.7" width="3.4" height="86.3" fill="#d7a6cb"/>
<rect x="125.9" y="571.7" width="5.1" height="86.3" fill="#c99fb6"/>
<rect x="90.7" y="509.7" width="44.6" height="2.5" fill="#bcaea4"/>
<path d="M93.5,512.2 L126.4,512.2 L126.4,568.8 Q125.9,570.7 119.4,570.7 L100.5,570.7 Q94.0,570.7 93.5,565.8 Z" fill="url(#ag1416)"/>
<path d="M93.5,565.8 Q94.0,571.7 100.5,571.7 L119.4,571.7 Q125.9,571.7 126.4,568.8 L126.4,657.0 L93.5,657.0 Z" fill="url(#lg1416)"/>
<path d="M93.5,565.8 Q94.3,569.0 101.5,569.0 L118.4,569.0 Q125.6,569.0 126.4,568.8 L126.4,571.0 Q125.4,574.4 118.4,574.4 L101.5,574.4 Q94.5,574.4 93.5,568.0 Z" fill="#9c0e78"/>
<rect x="90.6" y="656.5" width="40.4" height="1.5" fill="#b8308f" opacity="0.6"/>
</g>
<defs><linearGradient id="ag1874" x1="0" y1="509.7" x2="0" y2="568.8" gradientUnits="userSpaceOnUse"><stop offset="0" stop-color="#c2b5ab"/><stop offset="0.15" stop-color="#d0c8c2"/><stop offset="0.6" stop-color="#dcd7d3"/><stop offset="1" stop-color="#e5e2df"/></linearGradient><linearGradient id="lg1874" x1="0" y1="568.8" x2="0" y2="656.0" gradientUnits="userSpaceOnUse"><stop offset="0" stop-color="#dec0d7"/><stop offset="0.662" stop-color="#e3cbde"/><stop offset="0.828" stop-color="#e3cbde"/><stop offset="0.858" stop-color="#d6a6c8"/><stop offset="1" stop-color="#cf98bd"/></linearGradient></defs>
<g filter="url(#soft)">
<rect x="136.5" y="509.7" width="44.5" height="149.3" fill="#ebe7e4"/>
<rect x="136.8" y="509.7" width="44.2" height="146.3" fill="#d0c6c0"/>
<rect x="136.8" y="568.8" width="8.9" height="87.2" fill="#dcc2d0"/>
<rect x="175.5" y="568.8" width="5.5" height="87.2" fill="#d2b9c2"/>
<rect x="136.5" y="509.7" width="44.5" height="2.5" fill="#bcaea4"/>
<path d="M145.2,512.2 L176.0,512.2 L176.0,565.4 Q175.5,567.8 169.0,567.8 L152.2,567.8 Q145.7,567.8 145.2,561.7 Z" fill="url(#ag1874)"/>
<path d="M145.2,561.7 Q145.7,568.8 152.2,568.8 L169.0,568.8 Q175.5,568.8 176.0,565.4 L176.0,655.0 L145.2,655.0 Z" fill="url(#lg1874)"/>
<path d="M145.2,561.7 Q146.0,566.5 153.2,566.5 L168.0,566.5 Q175.2,566.5 176.0,565.4 L176.0,567.6 Q175.0,571.0 168.0,571.0 L153.2,571.0 Q146.2,571.0 145.2,563.9 Z" fill="#bc388a"/>
<rect x="136.8" y="654.5" width="44.2" height="1.5" fill="#cf98bd" opacity="0.6"/>
</g>
<text transform="translate(126.1,691.0) scale(1.13,1.02)" font-size="40" font-weight="bold" fill="#111" stroke="#111" stroke-width="0.6">I</text>
<text transform="translate(141.7,698.8) scale(1.15,1.04)" font-size="27" font-weight="bold" fill="#111" stroke="#111" stroke-width="0.5">2</text>
<polyline points="84.5,834.5 86.7,834.0 88.8,833.4 91.0,832.9 93.1,832.2 95.3,831.6 97.5,830.8 99.6,830.1 101.8,829.3 103.9,828.4 106.1,827.5 108.3,826.6 110.4,825.6 112.6,824.5 114.7,823.4 116.9,822.2 119.1,820.9 121.2,819.6 123.4,818.1 125.5,816.7 127.7,815.1 129.9,813.5 132.0,811.7 134.2,809.9 136.3,808.0 138.5,806.0 140.7,803.9 142.8,801.8 145.0,799.5 147.1,797.1 149.3,794.6 151.5,792.0 153.6,789.4 155.8,786.6 157.9,783.7 160.1,780.7 162.3,777.5 164.4,774.3 166.6,771.0 168.7,767.5 170.9,764.0 173.1,760.3 175.2,756.5 177.4,752.6 179.5,748.7 181.7,744.6 183.9,740.4 186.0,736.1 188.2,731.7 190.3,727.2 192.5,722.7 194.7,718.0 196.8,713.3 199.0,708.5 201.1,703.6 203.3,698.7 205.5,693.7 207.6,688.7 209.8,683.6 211.9,678.5 214.1,673.3 216.3,668.2 218.4,663.0 220.6,657.8 222.7,652.6 224.9,647.4 227.1,642.3 229.2,637.2 231.4,632.1 233.5,627.1 235.7,622.2 237.9,617.3 240.0,612.5 242.2,607.8 244.3,603.2 246.5,598.7 248.7,594.3 250.8,590.1 253.0,586.0 255.1,582.0 257.3,578.2 259.5,574.6 261.6,571.2 263.8,568.0 265.9,564.9 268.1,562.1 270.3,559.5 272.4,557.0 274.6,554.9 276.7,552.9 278.9,551.2 281.1,549.7 283.2,548.5 285.4,547.5 287.5,546.8 289.7,546.3 291.9,546.1 294.0,546.1 296.2,546.3 298.3,546.7 300.5,547.4 302.7,548.2 304.8,549.2 307.0,550.5 309.1,551.9 311.3,553.5 313.5,555.3 315.6,557.3 317.8,559.5 319.9,561.9 322.1,564.4 324.3,567.1 326.4,569.9 328.6,572.9 330.7,576.1 332.9,579.4 335.1,582.8 337.2,586.3 339.4,590.0 341.5,593.8 343.7,597.7 345.9,601.7 348.0,605.7 350.2,609.9 352.3,614.1 354.5,618.4 356.7,622.8 358.8,627.2 361.0,631.7 363.1,636.2 365.3,640.7 367.5,645.3 369.6,649.8 371.8,654.4 373.9,659.0 376.1,663.6 378.3,668.2 380.4,672.8 382.6,677.3 384.7,681.8 386.9,686.3 389.1,690.8 391.2,695.2 393.4,699.6 395.5,703.9 397.7,708.1 399.9,712.4 402.0,716.5 404.2,720.6 406.3,724.6 408.5,728.5 410.7,732.4 412.8,736.2 415.0,739.9 417.1,743.5 419.3,747.0 421.5,750.5 423.6,753.9 425.8,757.1 427.9,760.3 430.1,763.4 432.3,766.5 434.4,769.4 436.6,772.2 438.7,775.0 440.9,777.6 443.1,780.2 445.2,782.7 447.4,785.1 449.5,787.4 451.7,789.6 453.9,791.8 456.0,793.8 458.2,795.8 460.3,797.7 462.5,799.6 464.7,801.3 466.8,803.0 469.0,804.6 471.1,806.1 473.3,807.6 475.5,809.0 477.6,810.3 479.8,811.6 481.9,812.8 484.1,813.9 486.3,815.0 488.4,816.0 490.6,817.0 492.7,818.0 494.9,818.8 497.1,819.7 499.2,820.5 501.4,821.2 503.5,821.9 505.7,822.6 507.9,823.2 510.0,823.8 512.2,824.3 514.3,824.8 516.5,825.3 518.7,825.8 520.8,826.2 523.0,826.6 525.1,826.9 527.3,827.3 529.5,827.6 531.6,827.9 533.8,828.2 535.9,828.4 538.1,828.7 540.3,828.9 542.4,829.1 544.6,829.3 546.7,829.5 548.9,829.6 551.1,829.8 553.2,829.9 555.4,830.0 557.5,830.1 559.7,830.2 561.9,830.3 564.0,830.4 566.2,830.5 568.3,830.5 570.5,830.6" fill="none" stroke="#000000" stroke-width="3.6" stroke-linejoin="round"/>
<polyline points="84.5,836.2 86.7,835.8 88.8,835.5 91.0,835.0 93.1,834.6 95.3,834.2 97.5,833.7 99.6,833.2 101.8,832.7 103.9,832.1 106.1,831.5 108.3,830.9 110.4,830.2 112.6,829.5 114.7,828.8 116.9,828.1 119.1,827.3 121.2,826.4 123.4,825.5 125.5,824.6 127.7,823.6 129.9,822.6 132.0,821.5 134.2,820.4 136.3,819.3 138.5,818.1 140.7,816.8 142.8,815.5 145.0,814.1 147.1,812.7 149.3,811.2 151.5,809.6 153.6,808.0 155.8,806.4 157.9,804.6 160.1,802.9 162.3,801.0 164.4,799.1 166.6,797.2 168.7,795.1 170.9,793.1 173.1,790.9 175.2,788.7 177.4,786.5 179.5,784.2 181.7,781.8 183.9,779.4 186.0,776.9 188.2,774.3 190.3,771.8 192.5,769.1 194.7,766.5 196.8,763.7 199.0,761.0 201.1,758.2 203.3,755.4 205.5,752.5 207.6,749.6 209.8,746.7 211.9,743.8 214.1,740.8 216.3,737.9 218.4,734.9 220.6,731.9 222.7,728.9 224.9,726.0 227.1,723.0 229.2,720.1 231.4,717.2 233.5,714.3 235.7,711.5 237.9,708.6 240.0,705.9 242.2,703.2 244.3,700.5 246.5,697.9 248.7,695.4 250.8,692.9 253.0,690.5 255.1,688.2 257.3,686.0 259.5,683.9 261.6,681.9 263.8,680.0 265.9,678.2 268.1,676.6 270.3,675.0 272.4,673.6 274.6,672.3 276.7,671.1 278.9,670.1 281.1,669.2 283.2,668.5 285.4,667.9 287.5,667.4 289.7,667.1 291.9,667.0 294.0,667.0 296.2,667.1 298.3,667.4 300.5,667.7 302.7,668.2 304.8,668.8 307.0,669.6 309.1,670.4 311.3,671.4 313.5,672.5 315.6,673.7 317.8,675.0 319.9,676.4 322.1,677.9 324.3,679.5 326.4,681.2 328.6,682.9 330.7,684.8 332.9,686.8 335.1,688.8 337.2,690.9 339.4,693.0 341.5,695.3 343.7,697.6 345.9,699.9 348.0,702.3 350.2,704.7 352.3,707.2 354.5,709.7 356.7,712.3 358.8,714.9 361.0,717.5 363.1,720.1 365.3,722.7 367.5,725.4 369.6,728.0 371.8,730.7 373.9,733.3 376.1,736.0 378.3,738.6 380.4,741.3 382.6,743.9 384.7,746.5 386.9,749.1 389.1,751.7 391.2,754.2 393.4,756.7 395.5,759.2 397.7,761.6 399.9,764.1 402.0,766.4 404.2,768.8 406.3,771.1 408.5,773.3 410.7,775.5 412.8,777.7 415.0,779.8 417.1,781.9 419.3,783.9 421.5,785.9 423.6,787.8 425.8,789.7 427.9,791.5 430.1,793.3 432.3,795.0 434.4,796.7 436.6,798.3 438.7,799.9 440.9,801.4 443.1,802.9 445.2,804.3 447.4,805.7 449.5,807.0 451.7,808.3 453.9,809.6 456.0,810.7 458.2,811.9 460.3,813.0 462.5,814.0 464.7,815.0 466.8,816.0 469.0,816.9 471.1,817.8 473.3,818.7 475.5,819.5 477.6,820.2 479.8,821.0 481.9,821.7 484.1,822.3 486.3,823.0 488.4,823.6 490.6,824.1 492.7,824.7 494.9,825.2 497.1,825.7 499.2,826.1 501.4,826.6 503.5,827.0 505.7,827.4 507.9,827.7 510.0,828.1 512.2,828.4 514.3,828.7 516.5,829.0 518.7,829.3 520.8,829.5 523.0,829.8 525.1,830.0 527.3,830.2 529.5,830.4 531.6,830.6 533.8,830.7 535.9,830.9 538.1,831.1 540.3,831.2 542.4,831.3 544.6,831.4 546.7,831.5 548.9,831.6 551.1,831.7 553.2,831.8 555.4,831.9 557.5,832.0 559.7,832.0 561.9,832.1 564.0,832.2 566.2,832.2 568.3,832.2 570.5,832.3" fill="none" stroke="#ff0000" stroke-width="3.6" stroke-linejoin="round"/>
<polyline points="84.5,820.9 86.7,820.6 88.8,820.4 91.0,820.1 93.1,819.8 95.3,819.5 97.5,819.2 99.6,818.9 101.8,818.5 103.9,818.1 106.1,817.7 108.3,817.3 110.4,816.9 112.6,816.4 114.7,815.9 116.9,815.4 119.1,814.9 121.2,814.3 123.4,813.8 125.5,813.1 127.7,812.5 129.9,811.8 132.0,811.1 134.2,810.4 136.3,809.6 138.5,808.8 140.7,808.0 142.8,807.1 145.0,806.2 147.1,805.3 149.3,804.3 151.5,803.3 153.6,802.3 155.8,801.2 157.9,800.1 160.1,798.9 162.3,797.7 164.4,796.5 166.6,795.2 168.7,793.9 170.9,792.6 173.1,791.2 175.2,789.8 177.4,788.3 179.5,786.9 181.7,785.3 183.9,783.8 186.0,782.2 188.2,780.6 190.3,778.9 192.5,777.2 194.7,775.5 196.8,773.8 199.0,772.0 201.1,770.2 203.3,768.4 205.5,766.6 207.6,764.7 209.8,762.9 211.9,761.0 214.1,759.1 216.3,757.2 218.4,755.3 220.6,753.4 222.7,751.4 224.9,749.5 227.1,747.6 229.2,745.7 231.4,743.8 233.5,742.0 235.7,740.1 237.9,738.3 240.0,736.5 242.2,734.7 244.3,732.9 246.5,731.2 248.7,729.6 250.8,727.9 253.0,726.4 255.1,724.9 257.3,723.4 259.5,722.0 261.6,720.7 263.8,719.4 265.9,718.2 268.1,717.1 270.3,716.1 272.4,715.1 274.6,714.2 276.7,713.5 278.9,712.8 281.1,712.2 283.2,711.7 285.4,711.3 287.5,711.0 289.7,710.8 291.9,710.8 294.0,710.8 296.2,710.9 298.3,711.1 300.5,711.4 302.7,711.8 304.8,712.2 307.0,712.8 309.1,713.5 311.3,714.2 313.5,715.0 315.6,715.9 317.8,716.9 319.9,717.9 322.1,719.0 324.3,720.2 326.4,721.5 328.6,722.8 330.7,724.1 332.9,725.6 335.1,727.0 337.2,728.6 339.4,730.1 341.5,731.8 343.7,733.4 345.9,735.1 348.0,736.8 350.2,738.6 352.3,740.3 354.5,742.1 356.7,743.9 358.8,745.8 361.0,747.6 363.1,749.5 365.3,751.3 367.5,753.2 369.6,755.0 371.8,756.9 373.9,758.8 376.1,760.6 378.3,762.5 380.4,764.3 382.6,766.1 384.7,768.0 386.9,769.8 389.1,771.5 391.2,773.3 393.4,775.0 395.5,776.8 397.7,778.5 399.9,780.1 402.0,781.8 404.2,783.4 406.3,785.0 408.5,786.5 410.7,788.1 412.8,789.6 415.0,791.1 417.1,792.5 419.3,793.9 421.5,795.3 423.6,796.6 425.8,797.9 427.9,799.2 430.1,800.4 432.3,801.7 434.4,802.8 436.6,804.0 438.7,805.1 440.9,806.2 443.1,807.2 445.2,808.2 447.4,809.2 449.5,810.1 451.7,811.1 453.9,811.9 456.0,812.8 458.2,813.6 460.3,814.4 462.5,815.2 464.7,815.9 466.8,816.6 469.0,817.3 471.1,818.0 473.3,818.6 475.5,819.2 477.6,819.8 479.8,820.4 481.9,820.9 484.1,821.4 486.3,821.9 488.4,822.4 490.6,822.9 492.7,823.3 494.9,823.7 497.1,824.1 499.2,824.5 501.4,824.9 503.5,825.2 505.7,825.5 507.9,825.9 510.0,826.2 512.2,826.5 514.3,826.7 516.5,827.0 518.7,827.3 520.8,827.5 523.0,827.7 525.1,828.0 527.3,828.2 529.5,828.4 531.6,828.6 533.8,828.8 535.9,829.0 538.1,829.1 540.3,829.3 542.4,829.5 544.6,829.6 546.7,829.8 548.9,829.9 551.1,830.0 553.2,830.2 555.4,830.3 557.5,830.4 559.7,830.5 561.9,830.7 564.0,830.8 566.2,830.9 568.3,831.0 570.5,831.1" fill="none" stroke="#0000ff" stroke-width="3.6" stroke-linejoin="round"/>
<polyline points="84.5,830.9 86.7,830.7 88.8,830.4 91.0,830.2 93.1,829.9 95.3,829.6 97.5,829.3 99.6,829.0 101.8,828.7 103.9,828.4 106.1,828.0 108.3,827.6 110.4,827.2 112.6,826.8 114.7,826.4 116.9,825.9 119.1,825.4 121.2,824.9 123.4,824.4 125.5,823.8 127.7,823.3 129.9,822.7 132.0,822.0 134.2,821.4 136.3,820.7 138.5,820.0 140.7,819.2 142.8,818.5 145.0,817.7 147.1,816.9 149.3,816.0 151.5,815.2 153.6,814.2 155.8,813.3 157.9,812.3 160.1,811.3 162.3,810.3 164.4,809.3 166.6,808.2 168.7,807.1 170.9,805.9 173.1,804.7 175.2,803.5 177.4,802.3 179.5,801.1 181.7,799.8 183.9,798.5 186.0,797.1 188.2,795.8 190.3,794.4 192.5,793.0 194.7,791.5 196.8,790.1 199.0,788.6 201.1,787.1 203.3,785.6 205.5,784.1 207.6,782.6 209.8,781.1 211.9,779.5 214.1,778.0 216.3,776.4 218.4,774.9 220.6,773.3 222.7,771.7 224.9,770.2 227.1,768.6 229.2,767.1 231.4,765.6 233.5,764.1 235.7,762.6 237.9,761.1 240.0,759.6 242.2,758.2 244.3,756.8 246.5,755.4 248.7,754.0 250.8,752.7 253.0,751.4 255.1,750.2 257.3,749.0 259.5,747.8 261.6,746.7 263.8,745.7 265.9,744.7 268.1,743.7 270.3,742.8 272.4,742.0 274.6,741.2 276.7,740.5 278.9,739.8 281.1,739.2 283.2,738.7 285.4,738.3 287.5,737.9 289.7,737.6 291.9,737.3 294.0,737.2 296.2,737.1 298.3,737.0 300.5,737.1 302.7,737.2 304.8,737.4 307.0,737.7 309.1,738.0 311.3,738.4 313.5,738.9 315.6,739.5 317.8,740.1 319.9,740.8 322.1,741.5 324.3,742.3 326.4,743.2 328.6,744.1 330.7,745.1 332.9,746.1 335.1,747.2 337.2,748.4 339.4,749.6 341.5,750.8 343.7,752.1 345.9,753.4 348.0,754.7 350.2,756.1 352.3,757.5 354.5,758.9 356.7,760.4 358.8,761.9 361.0,763.4 363.1,764.9 365.3,766.4 367.5,768.0 369.6,769.5 371.8,771.1 373.9,772.7 376.1,774.2 378.3,775.8 380.4,777.4 382.6,778.9 384.7,780.5 386.9,782.1 389.1,783.6 391.2,785.1 393.4,786.6 395.5,788.1 397.7,789.6 399.9,791.1 402.0,792.5 404.2,794.0 406.3,795.4 408.5,796.7 410.7,798.1 412.8,799.4 415.0,800.7 417.1,802.0 419.3,803.2 421.5,804.5 423.6,805.7 425.8,806.8 427.9,808.0 430.1,809.1 432.3,810.1 434.4,811.2 436.6,812.2 438.7,813.2 440.9,814.1 443.1,815.0 445.2,815.9 447.4,816.8 449.5,817.6 451.7,818.4 453.9,819.2 456.0,820.0 458.2,820.7 460.3,821.4 462.5,822.0 464.7,822.7 466.8,823.3 469.0,823.9 471.1,824.4 473.3,825.0 475.5,825.5 477.6,826.0 479.8,826.4 481.9,826.9 484.1,827.3 486.3,827.7 488.4,828.1 490.6,828.5 492.7,828.8 494.9,829.2 497.1,829.5 499.2,829.8 501.4,830.1 503.5,830.3 505.7,830.6 507.9,830.8 510.0,831.1 512.2,831.3 514.3,831.5 516.5,831.7 518.7,831.8 520.8,832.0 523.0,832.2 525.1,832.3 527.3,832.5 529.5,832.6 531.6,832.7 533.8,832.9 535.9,833.0 538.1,833.1 540.3,833.2 542.4,833.3 544.6,833.4 546.7,833.4 548.9,833.5 551.1,833.6 553.2,833.7 555.4,833.7 557.5,833.8 559.7,833.9 561.9,833.9 564.0,834.0 566.2,834.0 568.3,834.0 570.5,834.1" fill="none" stroke="#ff00ff" stroke-width="3.6" stroke-linejoin="round"/>
<polyline points="84.5,828.0 86.7,827.7 88.8,827.5 91.0,827.2 93.1,827.0 95.3,826.7 97.5,826.4 99.6,826.1 101.8,825.8 103.9,825.5 106.1,825.2 108.3,824.8 110.4,824.5 112.6,824.1 114.7,823.7 116.9,823.3 119.1,822.9 121.2,822.4 123.4,822.0 125.5,821.5 127.7,821.0 129.9,820.5 132.0,820.0 134.2,819.4 136.3,818.9 138.5,818.3 140.7,817.7 142.8,817.1 145.0,816.4 147.1,815.7 149.3,815.0 151.5,814.3 153.6,813.6 155.8,812.8 157.9,812.1 160.1,811.3 162.3,810.4 164.4,809.6 166.6,808.7 168.7,807.8 170.9,806.9 173.1,806.0 175.2,805.0 177.4,804.1 179.5,803.1 181.7,802.1 183.9,801.0 186.0,800.0 188.2,798.9 190.3,797.8 192.5,796.7 194.7,795.5 196.8,794.4 199.0,793.2 201.1,792.0 203.3,790.8 205.5,789.6 207.6,788.4 209.8,787.1 211.9,785.9 214.1,784.6 216.3,783.3 218.4,782.0 220.6,780.8 222.7,779.5 224.9,778.2 227.1,776.9 229.2,775.6 231.4,774.3 233.5,773.1 235.7,771.8 237.9,770.5 240.0,769.3 242.2,768.0 244.3,766.8 246.5,765.6 248.7,764.4 250.8,763.3 253.0,762.1 255.1,761.0 257.3,760.0 259.5,758.9 261.6,757.9 263.8,757.0 265.9,756.0 268.1,755.1 270.3,754.3 272.4,753.5 274.6,752.8 276.7,752.1 278.9,751.5 281.1,750.9 283.2,750.4 285.4,750.0 287.5,749.6 289.7,749.3 291.9,749.1 294.0,748.9 296.2,748.8 298.3,748.8 300.5,748.8 302.7,748.9 304.8,749.1 307.0,749.3 309.1,749.7 311.3,750.0 313.5,750.5 315.6,751.0 317.8,751.6 319.9,752.3 322.1,753.0 324.3,753.8 326.4,754.6 328.6,755.5 330.7,756.4 332.9,757.4 335.1,758.4 337.2,759.5 339.4,760.6 341.5,761.7 343.7,762.9 345.9,764.1 348.0,765.3 350.2,766.6 352.3,767.8 354.5,769.1 356.7,770.4 358.8,771.7 361.0,773.0 363.1,774.4 365.3,775.7 367.5,777.0 369.6,778.4 371.8,779.7 373.9,781.0 376.1,782.3 378.3,783.7 380.4,785.0 382.6,786.3 384.7,787.6 386.9,788.8 389.1,790.1 391.2,791.3 393.4,792.6 395.5,793.8 397.7,795.0 399.9,796.2 402.0,797.3 404.2,798.5 406.3,799.6 408.5,800.7 410.7,801.8 412.8,802.8 415.0,803.8 417.1,804.8 419.3,805.8 421.5,806.8 423.6,807.7 425.8,808.6 427.9,809.5 430.1,810.4 432.3,811.2 434.4,812.0 436.6,812.8 438.7,813.6 440.9,814.3 443.1,815.0 445.2,815.7 447.4,816.4 449.5,817.0 451.7,817.7 453.9,818.3 456.0,818.9 458.2,819.4 460.3,820.0 462.5,820.5 464.7,821.0 466.8,821.5 469.0,821.9 471.1,822.4 473.3,822.8 475.5,823.2 477.6,823.6 479.8,824.0 481.9,824.3 484.1,824.7 486.3,825.0 488.4,825.3 490.6,825.6 492.7,825.9 494.9,826.2 497.1,826.5 499.2,826.7 501.4,827.0 503.5,827.2 505.7,827.4 507.9,827.6 510.0,827.8 512.2,828.0 514.3,828.2 516.5,828.4 518.7,828.5 520.8,828.7 523.0,828.8 525.1,829.0 527.3,829.1 529.5,829.3 531.6,829.4 533.8,829.5 535.9,829.6 538.1,829.7 540.3,829.8 542.4,829.9 544.6,830.0 546.7,830.1 548.9,830.2 551.1,830.3 553.2,830.4 555.4,830.4 557.5,830.5 559.7,830.6 561.9,830.7 564.0,830.7 566.2,830.8 568.3,830.8 570.5,830.9" fill="none" stroke="#008000" stroke-width="3.6" stroke-linejoin="round"/>
<polyline points="84.5,827.9 86.7,827.7 88.8,827.4 91.0,827.1 93.1,826.9 95.3,826.6 97.5,826.3 99.6,826.0 101.8,825.6 103.9,825.3 106.1,825.0 108.3,824.6 110.4,824.3 112.6,823.9 114.7,823.5 116.9,823.1 119.1,822.7 121.2,822.2 123.4,821.8 125.5,821.3 127.7,820.9 129.9,820.4 132.0,819.9 134.2,819.4 136.3,818.8 138.5,818.3 140.7,817.7 142.8,817.1 145.0,816.5 147.1,815.9 149.3,815.3 151.5,814.7 153.6,814.0 155.8,813.3 157.9,812.7 160.1,811.9 162.3,811.2 164.4,810.5 166.6,809.7 168.7,809.0 170.9,808.2 173.1,807.4 175.2,806.6 177.4,805.8 179.5,804.9 181.7,804.1 183.9,803.2 186.0,802.3 188.2,801.4 190.3,800.5 192.5,799.6 194.7,798.7 196.8,797.7 199.0,796.8 201.1,795.8 203.3,794.9 205.5,793.9 207.6,792.9 209.8,792.0 211.9,791.0 214.1,790.0 216.3,789.0 218.4,788.0 220.6,787.0 222.7,786.0 224.9,785.0 227.1,784.1 229.2,783.1 231.4,782.1 233.5,781.2 235.7,780.2 237.9,779.3 240.0,778.3 242.2,777.4 244.3,776.5 246.5,775.7 248.7,774.8 250.8,774.0 253.0,773.2 255.1,772.4 257.3,771.6 259.5,770.9 261.6,770.2 263.8,769.6 265.9,768.9 268.1,768.3 270.3,767.8 272.4,767.3 274.6,766.8 276.7,766.4 278.9,766.0 281.1,765.7 283.2,765.4 285.4,765.2 287.5,765.0 289.7,764.8 291.9,764.7 294.0,764.7 296.2,764.7 298.3,764.8 300.5,764.9 302.7,765.0 304.8,765.2 307.0,765.4 309.1,765.7 311.3,766.0 313.5,766.4 315.6,766.8 317.8,767.3 319.9,767.8 322.1,768.3 324.3,768.8 326.4,769.4 328.6,770.1 330.7,770.7 332.9,771.4 335.1,772.1 337.2,772.9 339.4,773.6 341.5,774.4 343.7,775.2 345.9,776.0 348.0,776.9 350.2,777.7 352.3,778.6 354.5,779.5 356.7,780.4 358.8,781.3 361.0,782.2 363.1,783.1 365.3,784.1 367.5,785.0 369.6,785.9 371.8,786.9 373.9,787.8 376.1,788.8 378.3,789.7 380.4,790.6 382.6,791.6 384.7,792.5 386.9,793.4 389.1,794.3 391.2,795.2 393.4,796.1 395.5,797.0 397.7,797.9 399.9,798.8 402.0,799.7 404.2,800.5 406.3,801.4 408.5,802.2 410.7,803.0 412.8,803.8 415.0,804.6 417.1,805.4 419.3,806.2 421.5,807.0 423.6,807.7 425.8,808.4 427.9,809.1 430.1,809.8 432.3,810.5 434.4,811.2 436.6,811.9 438.7,812.5 440.9,813.1 443.1,813.7 445.2,814.3 447.4,814.9 449.5,815.5 451.7,816.0 453.9,816.6 456.0,817.1 458.2,817.6 460.3,818.1 462.5,818.6 464.7,819.1 466.8,819.5 469.0,820.0 471.1,820.4 473.3,820.8 475.5,821.2 477.6,821.6 479.8,822.0 481.9,822.3 484.1,822.7 486.3,823.0 488.4,823.3 490.6,823.7 492.7,824.0 494.9,824.3 497.1,824.6 499.2,824.8 501.4,825.1 503.5,825.3 505.7,825.6 507.9,825.8 510.0,826.1 512.2,826.3 514.3,826.5 516.5,826.7 518.7,826.9 520.8,827.1 523.0,827.3 525.1,827.4 527.3,827.6 529.5,827.8 531.6,827.9 533.8,828.1 535.9,828.2 538.1,828.3 540.3,828.5 542.4,828.6 544.6,828.7 546.7,828.8 548.9,828.9 551.1,829.0 553.2,829.1 555.4,829.2 557.5,829.3 559.7,829.4 561.9,829.5 564.0,829.6 566.2,829.7 568.3,829.7 570.5,829.8" fill="none" stroke="#000080" stroke-width="3.6" stroke-linejoin="round"/>
<polyline points="84.5,824.6 86.7,824.5 88.8,824.4 91.0,824.4 93.1,824.3 95.3,824.2 97.5,824.1 99.6,824.0 101.8,823.9 103.9,823.7 106.1,823.6 108.3,823.5 110.4,823.3 112.6,823.1 114.7,823.0 116.9,822.8 119.1,822.6 121.2,822.4 123.4,822.2 125.5,821.9 127.7,821.7 129.9,821.4 132.0,821.2 134.2,820.9 136.3,820.6 138.5,820.3 140.7,820.0 142.8,819.6 145.0,819.3 147.1,818.9 149.3,818.5 151.5,818.1 153.6,817.7 155.8,817.2 157.9,816.8 160.1,816.3 162.3,815.8 164.4,815.3 166.6,814.7 168.7,814.2 170.9,813.6 173.1,813.0 175.2,812.4 177.4,811.8 179.5,811.2 181.7,810.5 183.9,809.8 186.0,809.1 188.2,808.4 190.3,807.7 192.5,807.0 194.7,806.2 196.8,805.4 199.0,804.7 201.1,803.9 203.3,803.0 205.5,802.2 207.6,801.4 209.8,800.6 211.9,799.7 214.1,798.9 216.3,798.0 218.4,797.1 220.6,796.3 222.7,795.4 224.9,794.5 227.1,793.7 229.2,792.8 231.4,791.9 233.5,791.1 235.7,790.2 237.9,789.4 240.0,788.6 242.2,787.8 244.3,787.0 246.5,786.2 248.7,785.5 250.8,784.7 253.0,784.0 255.1,783.3 257.3,782.7 259.5,782.1 261.6,781.5 263.8,780.9 265.9,780.4 268.1,780.0 270.3,779.5 272.4,779.2 274.6,778.8 276.7,778.5 278.9,778.3 281.1,778.1 283.2,777.9 285.4,777.8 287.5,777.8 289.7,777.8 291.9,777.9 294.0,778.0 296.2,778.1 298.3,778.3 300.5,778.5 302.7,778.7 304.8,779.0 307.0,779.4 309.1,779.7 311.3,780.1 313.5,780.5 315.6,781.0 317.8,781.5 319.9,782.0 322.1,782.6 324.3,783.2 326.4,783.8 328.6,784.4 330.7,785.1 332.9,785.8 335.1,786.5 337.2,787.2 339.4,787.9 341.5,788.7 343.7,789.4 345.9,790.2 348.0,791.0 350.2,791.8 352.3,792.6 354.5,793.4 356.7,794.2 358.8,795.1 361.0,795.9 363.1,796.7 365.3,797.6 367.5,798.4 369.6,799.2 371.8,800.1 373.9,800.9 376.1,801.7 378.3,802.5 380.4,803.3 382.6,804.1 384.7,804.9 386.9,805.7 389.1,806.5 391.2,807.3 393.4,808.0 395.5,808.8 397.7,809.5 399.9,810.3 402.0,811.0 404.2,811.7 406.3,812.4 408.5,813.1 410.7,813.7 412.8,814.4 415.0,815.0 417.1,815.7 419.3,816.3 421.5,816.9 423.6,817.5 425.8,818.0 427.9,818.6 430.1,819.1 432.3,819.7 434.4,820.2 436.6,820.7 438.7,821.2 440.9,821.6 443.1,822.1 445.2,822.5 447.4,823.0 449.5,823.4 451.7,823.8 453.9,824.2 456.0,824.6 458.2,824.9 460.3,825.3 462.5,825.6 464.7,826.0 466.8,826.3 469.0,826.6 471.1,826.9 473.3,827.2 475.5,827.5 477.6,827.7 479.8,828.0 481.9,828.3 484.1,828.5 486.3,828.7 488.4,828.9 490.6,829.2 492.7,829.4 494.9,829.6 497.1,829.8 499.2,829.9 501.4,830.1 503.5,830.3 505.7,830.5 507.9,830.6 510.0,830.8 512.2,830.9 514.3,831.1 516.5,831.2 518.7,831.3 520.8,831.5 523.0,831.6 525.1,831.7 527.3,831.8 529.5,831.9 531.6,832.0 533.8,832.2 535.9,832.3 538.1,832.4 540.3,832.4 542.4,832.5 544.6,832.6 546.7,832.7 548.9,832.8 551.1,832.9 553.2,833.0 555.4,833.0 557.5,833.1 559.7,833.2 561.9,833.3 564.0,833.3 566.2,833.4 568.3,833.5 570.5,833.6" fill="none" stroke="#8000ff" stroke-width="3.6" stroke-linejoin="round"/>
<rect x="84.5" y="504.2" width="486.0" height="360.8" fill="none" stroke="#000" stroke-width="3.8"/>
<line x1="84.5" y1="865.0" x2="84.5" y2="869.0" stroke="#000" stroke-width="3.4" stroke-linecap="round"/>
<line x1="138.5" y1="865.0" x2="138.5" y2="872.6" stroke="#000" stroke-width="3.4" stroke-linecap="round"/>
<text transform="translate(138.5,895.6) scale(1,0.985)" font-size="23.5" font-weight="bold" text-anchor="middle">450</text>
<line x1="192.5" y1="865.0" x2="192.5" y2="869.0" stroke="#000" stroke-width="3.4" stroke-linecap="round"/>
<line x1="246.5" y1="865.0" x2="246.5" y2="872.6" stroke="#000" stroke-width="3.4" stroke-linecap="round"/>
<text transform="translate(246.5,895.6) scale(1,0.985)" font-size="23.5" font-weight="bold" text-anchor="middle">500</text>
<line x1="300.5" y1="865.0" x2="300.5" y2="869.0" stroke="#000" stroke-width="3.4" stroke-linecap="round"/>
<line x1="354.5" y1="865.0" x2="354.5" y2="872.6" stroke="#000" stroke-width="3.4" stroke-linecap="round"/>
<text transform="translate(354.5,895.6) scale(1,0.985)" font-size="23.5" font-weight="bold" text-anchor="middle">550</text>
<line x1="408.5" y1="865.0" x2="408.5" y2="869.0" stroke="#000" stroke-width="3.4" stroke-linecap="round"/>
<line x1="462.5" y1="865.0" x2="462.5" y2="872.6" stroke="#000" stroke-width="3.4" stroke-linecap="round"/>
<text transform="translate(462.5,895.6) scale(1,0.985)" font-size="23.5" font-weight="bold" text-anchor="middle">600</text>
<line x1="516.5" y1="865.0" x2="516.5" y2="869.0" stroke="#000" stroke-width="3.4" stroke-linecap="round"/>
<line x1="570.5" y1="865.0" x2="570.5" y2="872.6" stroke="#000" stroke-width="3.4" stroke-linecap="round"/>
<text transform="translate(570.5,895.6) scale(1,0.985)" font-size="23.5" font-weight="bold" text-anchor="middle">650</text>
<line x1="81.3" y1="865.0" x2="84.5" y2="865.0" stroke="#000" stroke-width="3.4" stroke-linecap="round"/>
<line x1="77.5" y1="834.9" x2="84.5" y2="834.9" stroke="#000" stroke-width="3.4" stroke-linecap="round"/>
<text transform="translate(72.1,842.2) scale(1,1.035)" font-size="23.5" font-weight="bold" text-anchor="end">0.0</text>
<line x1="81.3" y1="804.9" x2="84.5" y2="804.9" stroke="#000" stroke-width="3.4" stroke-linecap="round"/>
<line x1="77.5" y1="774.8" x2="84.5" y2="774.8" stroke="#000" stroke-width="3.4" stroke-linecap="round"/>
<text transform="translate(72.1,782.1) scale(1,1.035)" font-size="23.5" font-weight="bold" text-anchor="end">0.1</text>
<line x1="81.3" y1="744.7" x2="84.5" y2="744.7" stroke="#000" stroke-width="3.4" stroke-linecap="round"/>
<line x1="77.5" y1="714.7" x2="84.5" y2="714.7" stroke="#000" stroke-width="3.4" stroke-linecap="round"/>
<text transform="translate(72.1,722.0) scale(1,1.035)" font-size="23.5" font-weight="bold" text-anchor="end">0.2</text>
<line x1="81.3" y1="684.6" x2="84.5" y2="684.6" stroke="#000" stroke-width="3.4" stroke-linecap="round"/>
<line x1="77.5" y1="654.5" x2="84.5" y2="654.5" stroke="#000" stroke-width="3.4" stroke-linecap="round"/>
<text transform="translate(72.1,661.8) scale(1,1.035)" font-size="23.5" font-weight="bold" text-anchor="end">0.3</text>
<line x1="81.3" y1="624.5" x2="84.5" y2="624.5" stroke="#000" stroke-width="3.4" stroke-linecap="round"/>
<line x1="77.5" y1="594.4" x2="84.5" y2="594.4" stroke="#000" stroke-width="3.4" stroke-linecap="round"/>
<text transform="translate(72.1,601.7) scale(1,1.035)" font-size="23.5" font-weight="bold" text-anchor="end">0.4</text>
<line x1="81.3" y1="564.3" x2="84.5" y2="564.3" stroke="#000" stroke-width="3.4" stroke-linecap="round"/>
<line x1="77.5" y1="534.3" x2="84.5" y2="534.3" stroke="#000" stroke-width="3.4" stroke-linecap="round"/>
<text transform="translate(72.1,541.6) scale(1,1.035)" font-size="23.5" font-weight="bold" text-anchor="end">0.5</text>
<line x1="81.3" y1="504.2" x2="84.5" y2="504.2" stroke="#000" stroke-width="3.4" stroke-linecap="round"/>
<line x1="444.5" y1="534.9" x2="486.2" y2="534.9" stroke="#000000" stroke-width="4.1" stroke-linecap="round"/>
<text x="491.5" y="542.4" font-size="23.3" font-weight="bold">0&#160;h</text>
<line x1="444.5" y1="564.7" x2="486.2" y2="564.7" stroke="#ff0000" stroke-width="4.1" stroke-linecap="round"/>
<text x="491.5" y="572.2" font-size="23.3" font-weight="bold">1&#160;h</text>
<line x1="444.5" y1="594.4" x2="486.2" y2="594.4" stroke="#0000ff" stroke-width="4.1" stroke-linecap="round"/>
<text x="491.5" y="601.9" font-size="23.3" font-weight="bold">2&#160;h</text>
<line x1="444.5" y1="624.2" x2="486.2" y2="624.2" stroke="#ff00ff" stroke-width="4.1" stroke-linecap="round"/>
<text x="491.5" y="631.7" font-size="23.3" font-weight="bold">3&#160;h</text>
<line x1="444.5" y1="654.0" x2="486.2" y2="654.0" stroke="#008000" stroke-width="4.1" stroke-linecap="round"/>
<text x="491.5" y="661.5" font-size="23.3" font-weight="bold">4&#160;h</text>
<line x1="444.5" y1="683.8" x2="486.2" y2="683.8" stroke="#000080" stroke-width="4.1" stroke-linecap="round"/>
<text x="491.5" y="691.2" font-size="23.3" font-weight="bold">10&#160;h</text>
<line x1="444.5" y1="713.5" x2="486.2" y2="713.5" stroke="#8000ff" stroke-width="4.1" stroke-linecap="round"/>
<text x="491.5" y="721.0" font-size="23.3" font-weight="bold">24&#160;h</text>
<text transform="translate(18.6,697.3) rotate(-90)" font-size="23.5" font-weight="bold" text-anchor="middle">Abs</text>
<text x="328.0" y="929.5" font-size="23.6" font-weight="bold" letter-spacing="0.15" text-anchor="middle">Wavelength(nm)</text>
<text x="322.4" y="970.3" font-size="27" font-weight="bold" letter-spacing="1.4" text-anchor="middle">(c)</text>
<defs><linearGradient id="ag7557" x1="0" y1="511.8" x2="0" y2="572.3" gradientUnits="userSpaceOnUse"><stop offset="0" stop-color="#c2b5ab"/><stop offset="0.15" stop-color="#d0c8c2"/><stop offset="0.6" stop-color="#dcd7d3"/><stop offset="1" stop-color="#e5e2df"/></linearGradient><linearGradient id="lg7557" x1="0" y1="572.3" x2="0" y2="659.6" gradientUnits="userSpaceOnUse"><stop offset="0" stop-color="#de54ca"/><stop offset="0.657" stop-color="#d84cc2"/><stop offset="0.821" stop-color="#d84cc2"/><stop offset="0.851" stop-color="#c43aa6"/><stop offset="1" stop-color="#b8308f"/></linearGradient></defs>
<g filter="url(#soft)">
<rect x="704.6" y="511.8" width="43.7" height="150.2" fill="#ebe7e4"/>
<rect x="704.4" y="511.8" width="40.6" height="147.8" fill="#c9beb7"/>
<rect x="704.4" y="572.3" width="4.1" height="87.3" fill="#d7a6cb"/>
<rect x="740.0" y="572.3" width="5.0" height="87.3" fill="#c99fb6"/>
<rect x="704.6" y="511.8" width="43.7" height="2.5" fill="#bcaea4"/>
<path d="M708.0,514.3 L740.5,514.3 L740.5,569.0 Q740.0,571.3 733.5,571.3 L715.0,571.3 Q708.5,571.3 708.0,567.4 Z" fill="url(#ag7557)"/>
<path d="M708.0,567.4 Q708.5,572.3 715.0,572.3 L733.5,572.3 Q740.0,572.3 740.5,569.0 L740.5,658.6 L708.0,658.6 Z" fill="url(#lg7557)"/>
<path d="M708.0,567.4 Q708.8,569.6 716.0,569.6 L732.5,569.6 Q739.7,569.6 740.5,569.0 L740.5,571.2 Q739.5,575.0 732.5,575.0 L716.0,575.0 Q709.0,575.0 708.0,569.6 Z" fill="#9c0e78"/>
<rect x="704.4" y="658.1" width="40.6" height="1.5" fill="#b8308f" opacity="0.6"/>
</g>
<defs><linearGradient id="ag8015" x1="0" y1="511.8" x2="0" y2="569.7" gradientUnits="userSpaceOnUse"><stop offset="0" stop-color="#c2b5ab"/><stop offset="0.15" stop-color="#d0c8c2"/><stop offset="0.6" stop-color="#dcd7d3"/><stop offset="1" stop-color="#e5e2df"/></linearGradient><linearGradient id="lg8015" x1="0" y1="569.7" x2="0" y2="659.2" gradientUnits="userSpaceOnUse"><stop offset="0" stop-color="#dec0d7"/><stop offset="0.673" stop-color="#e3cbde"/><stop offset="0.841" stop-color="#e3cbde"/><stop offset="0.871" stop-color="#d6a6c8"/><stop offset="1" stop-color="#cf98bd"/></linearGradient></defs>
<g filter="url(#soft)">
<rect x="750.4" y="511.8" width="43.8" height="149.7" fill="#ebe7e4"/>
<rect x="750.5" y="511.8" width="43.0" height="147.4" fill="#d0c6c0"/>
<rect x="750.5" y="569.7" width="7.0" height="89.5" fill="#dcc2d0"/>
<rect x="785.5" y="569.7" width="8.0" height="89.5" fill="#d2b9c2"/>
<rect x="750.4" y="511.8" width="43.8" height="2.5" fill="#bcaea4"/>
<path d="M757.0,514.3 L786.0,514.3 L786.0,566.0 Q785.5,568.7 779.0,568.7 L764.0,568.7 Q757.5,568.7 757.0,563.5 Z" fill="url(#ag8015)"/>
<path d="M757.0,563.5 Q757.5,569.7 764.0,569.7 L779.0,569.7 Q785.5,569.7 786.0,566.0 L786.0,658.2 L757.0,658.2 Z" fill="url(#lg8015)"/>
<path d="M757.0,563.5 Q757.8,567.4 765.0,567.4 L778.0,567.4 Q785.2,567.4 786.0,566.0 L786.0,568.2 Q785.0,572.0 778.0,572.0 L765.0,572.0 Q758.0,572.0 757.0,565.7 Z" fill="#bc388a"/>
<rect x="750.5" y="657.7" width="43.0" height="1.5" fill="#cf98bd" opacity="0.6"/>
</g>
<text transform="translate(743.3,692.1) scale(1.13,1.02)" font-size="40" font-weight="bold" fill="#111" stroke="#111" stroke-width="0.6">I</text>
<text transform="translate(758.9,699.9) scale(1.15,1.04)" font-size="27" font-weight="bold" fill="#111" stroke="#111" stroke-width="0.5">2</text>
<polyline points="697.2,789.8 699.3,789.3 701.5,788.7 703.6,788.2 705.8,787.6 707.9,786.9 710.1,786.2 712.2,785.5 714.4,784.7 716.5,783.9 718.7,783.1 720.8,782.1 723.0,781.2 725.1,780.2 727.3,779.1 729.4,778.0 731.6,776.8 733.7,775.5 735.8,774.2 738.0,772.8 740.1,771.4 742.3,769.8 744.4,768.3 746.6,766.6 748.7,764.8 750.9,763.0 753.0,761.1 755.2,759.1 757.3,757.1 759.5,754.9 761.6,752.7 763.8,750.3 765.9,747.9 768.1,745.4 770.2,742.8 772.3,740.2 774.5,737.4 776.6,734.5 778.8,731.6 780.9,728.5 783.1,725.4 785.2,722.2 787.4,718.9 789.5,715.5 791.7,712.0 793.8,708.5 796.0,704.8 798.1,701.1 800.3,697.3 802.4,693.5 804.6,689.5 806.7,685.6 808.8,681.5 811.0,677.4 813.1,673.3 815.3,669.1 817.4,664.8 819.6,660.6 821.7,656.3 823.9,651.9 826.0,647.6 828.2,643.3 830.3,638.9 832.5,634.6 834.6,630.2 836.8,625.9 838.9,621.6 841.1,617.4 843.2,613.2 845.4,609.0 847.5,604.9 849.6,600.9 851.8,596.9 853.9,593.1 856.1,589.3 858.2,585.6 860.4,582.0 862.5,578.5 864.7,575.2 866.8,571.9 869.0,568.8 871.1,565.9 873.3,563.1 875.4,560.4 877.6,557.9 879.7,555.6 881.9,553.5 884.0,551.5 886.1,549.7 888.3,548.1 890.4,546.7 892.6,545.4 894.7,544.4 896.9,543.6 899.0,542.9 901.2,542.5 903.3,542.3 905.5,542.2 907.6,542.4 909.8,542.7 911.9,543.2 914.1,543.8 916.2,544.6 918.4,545.6 920.5,546.8 922.6,548.1 924.8,549.6 926.9,551.2 929.1,553.0 931.2,555.0 933.4,557.0 935.5,559.3 937.7,561.6 939.8,564.1 942.0,566.8 944.1,569.5 946.3,572.4 948.4,575.3 950.6,578.4 952.7,581.6 954.9,584.9 957.0,588.2 959.1,591.7 961.3,595.2 963.4,598.8 965.6,602.4 967.7,606.1 969.9,609.9 972.0,613.7 974.2,617.5 976.3,621.4 978.5,625.3 980.6,629.2 982.8,633.1 984.9,637.0 987.1,641.0 989.2,644.9 991.4,648.8 993.5,652.7 995.6,656.6 997.8,660.5 999.9,664.3 1002.1,668.1 1004.2,671.9 1006.4,675.6 1008.5,679.3 1010.7,682.9 1012.8,686.5 1015.0,690.0 1017.1,693.5 1019.3,696.9 1021.4,700.2 1023.6,703.5 1025.7,706.7 1027.9,709.8 1030.0,712.9 1032.1,715.9 1034.3,718.8 1036.4,721.6 1038.6,724.4 1040.7,727.1 1042.9,729.7 1045.0,732.2 1047.2,734.7 1049.3,737.1 1051.5,739.4 1053.6,741.6 1055.8,743.7 1057.9,745.8 1060.1,747.8 1062.2,749.8 1064.4,751.6 1066.5,753.4 1068.7,755.1 1070.8,756.7 1072.9,758.3 1075.1,759.8 1077.2,761.3 1079.4,762.6 1081.5,764.0 1083.7,765.2 1085.8,766.4 1088.0,767.5 1090.1,768.6 1092.3,769.7 1094.4,770.6 1096.6,771.6 1098.7,772.4 1100.9,773.3 1103.0,774.1 1105.2,774.8 1107.3,775.5 1109.4,776.2 1111.6,776.8 1113.7,777.4 1115.9,777.9 1118.0,778.5 1120.2,778.9 1122.3,779.4 1124.5,779.8 1126.6,780.2 1128.8,780.6 1130.9,780.9 1133.1,781.2 1135.2,781.5 1137.4,781.8 1139.5,782.1 1141.7,782.3 1143.8,782.5 1145.9,782.7 1148.1,782.9 1150.2,783.1 1152.4,783.2 1154.5,783.4 1156.7,783.5 1158.8,783.6 1161.0,783.7 1163.1,783.8 1165.3,783.9 1167.4,783.9 1169.6,784.0 1171.7,784.1 1173.9,784.1 1176.0,784.1 1178.2,784.2 1180.3,784.2" fill="none" stroke="#000000" stroke-width="3.6" stroke-linejoin="round"/>
<polyline points="697.2,802.0 699.3,802.0 701.5,802.0 703.6,801.9 705.8,801.8 707.9,801.7 710.1,801.6 712.2,801.4 714.4,801.3 716.5,801.1 718.7,800.8 720.8,800.6 723.0,800.3 725.1,800.0 727.3,799.7 729.4,799.4 731.6,799.0 733.7,798.6 735.8,798.2 738.0,797.8 740.1,797.3 742.3,796.9 744.4,796.4 746.6,795.9 748.7,795.3 750.9,794.8 753.0,794.2 755.2,793.6 757.3,793.0 759.5,792.4 761.6,791.7 763.8,791.0 765.9,790.4 768.1,789.6 770.2,788.9 772.3,788.2 774.5,787.4 776.6,786.6 778.8,785.8 780.9,785.0 783.1,784.2 785.2,783.3 787.4,782.5 789.5,781.6 791.7,780.7 793.8,779.7 796.0,778.8 798.1,777.9 800.3,776.9 802.4,775.9 804.6,774.9 806.7,773.9 808.8,772.9 811.0,771.9 813.1,770.8 815.3,769.8 817.4,768.7 819.6,767.7 821.7,766.6 823.9,765.5 826.0,764.5 828.2,763.4 830.3,762.4 832.5,761.3 834.6,760.3 836.8,759.2 838.9,758.2 841.1,757.2 843.2,756.2 845.4,755.2 847.5,754.2 849.6,753.3 851.8,752.3 853.9,751.4 856.1,750.5 858.2,749.6 860.4,748.8 862.5,747.9 864.7,747.1 866.8,746.4 869.0,745.6 871.1,744.9 873.3,744.2 875.4,743.6 877.6,743.0 879.7,742.4 881.9,741.9 884.0,741.4 886.1,741.0 888.3,740.5 890.4,740.2 892.6,739.8 894.7,739.5 896.9,739.3 899.0,739.0 901.2,738.8 903.3,738.7 905.5,738.6 907.6,738.5 909.8,738.5 911.9,738.5 914.1,738.5 916.2,738.6 918.4,738.7 920.5,738.8 922.6,739.0 924.8,739.2 926.9,739.5 929.1,739.8 931.2,740.1 933.4,740.5 935.5,740.9 937.7,741.3 939.8,741.8 942.0,742.3 944.1,742.9 946.3,743.5 948.4,744.1 950.6,744.7 952.7,745.4 954.9,746.1 957.0,746.9 959.1,747.6 961.3,748.4 963.4,749.2 965.6,750.0 967.7,750.9 969.9,751.7 972.0,752.6 974.2,753.5 976.3,754.4 978.5,755.3 980.6,756.2 982.8,757.1 984.9,758.0 987.1,758.9 989.2,759.9 991.4,760.8 993.5,761.7 995.6,762.6 997.8,763.5 999.9,764.4 1002.1,765.3 1004.2,766.2 1006.4,767.1 1008.5,768.0 1010.7,768.9 1012.8,769.7 1015.0,770.5 1017.1,771.4 1019.3,772.2 1021.4,773.0 1023.6,773.8 1025.7,774.5 1027.9,775.3 1030.0,776.0 1032.1,776.8 1034.3,777.5 1036.4,778.2 1038.6,778.9 1040.7,779.5 1042.9,780.2 1045.0,780.8 1047.2,781.4 1049.3,781.9 1051.5,782.5 1053.6,783.0 1055.8,783.6 1057.9,784.0 1060.1,784.5 1062.2,785.0 1064.4,785.4 1066.5,785.8 1068.7,786.2 1070.8,786.5 1072.9,786.9 1075.1,787.2 1077.2,787.5 1079.4,787.8 1081.5,788.0 1083.7,788.3 1085.8,788.5 1088.0,788.7 1090.1,788.9 1092.3,789.1 1094.4,789.3 1096.6,789.4 1098.7,789.6 1100.9,789.7 1103.0,789.8 1105.2,789.9 1107.3,790.0 1109.4,790.1 1111.6,790.2 1113.7,790.3 1115.9,790.3 1118.0,790.4 1120.2,790.4 1122.3,790.5 1124.5,790.5 1126.6,790.5 1128.8,790.5 1130.9,790.5 1133.1,790.6 1135.2,790.6 1137.4,790.6 1139.5,790.6 1141.7,790.6 1143.8,790.6 1145.9,790.5 1148.1,790.5 1150.2,790.5 1152.4,790.5 1154.5,790.5 1156.7,790.5 1158.8,790.5 1161.0,790.5 1163.1,790.6 1165.3,790.6 1167.4,790.6 1169.6,790.6 1171.7,790.6 1173.9,790.7 1176.0,790.7 1178.2,790.8 1180.3,790.8" fill="none" stroke="#ff0000" stroke-width="3.6" stroke-linejoin="round"/>
<polyline points="697.2,834.6 699.3,834.5 701.5,834.3 703.6,834.1 705.8,834.0 707.9,833.8 710.1,833.6 712.2,833.3 714.4,833.1 716.5,832.9 718.7,832.6 720.8,832.4 723.0,832.1 725.1,831.8 727.3,831.5 729.4,831.2 731.6,830.8 733.7,830.5 735.8,830.1 738.0,829.7 740.1,829.3 742.3,828.9 744.4,828.4 746.6,828.0 748.7,827.5 750.9,827.0 753.0,826.5 755.2,825.9 757.3,825.3 759.5,824.7 761.6,824.1 763.8,823.5 765.9,822.8 768.1,822.1 770.2,821.4 772.3,820.6 774.5,819.8 776.6,819.0 778.8,818.2 780.9,817.3 783.1,816.4 785.2,815.5 787.4,814.5 789.5,813.5 791.7,812.5 793.8,811.4 796.0,810.4 798.1,809.2 800.3,808.1 802.4,806.9 804.6,805.7 806.7,804.4 808.8,803.1 811.0,801.8 813.1,800.4 815.3,799.1 817.4,797.7 819.6,796.3 821.7,794.9 823.9,793.5 826.0,792.0 828.2,790.6 830.3,789.2 832.5,787.7 834.6,786.3 836.8,784.8 838.9,783.4 841.1,782.0 843.2,780.6 845.4,779.2 847.5,777.8 849.6,776.4 851.8,775.1 853.9,773.8 856.1,772.5 858.2,771.3 860.4,770.1 862.5,768.9 864.7,767.7 866.8,766.6 869.0,765.6 871.1,764.6 873.3,763.6 875.4,762.7 877.6,761.9 879.7,761.1 881.9,760.3 884.0,759.6 886.1,759.0 888.3,758.4 890.4,757.9 892.6,757.5 894.7,757.1 896.9,756.7 899.0,756.4 901.2,756.2 903.3,756.0 905.5,755.8 907.6,755.7 909.8,755.7 911.9,755.7 914.1,755.8 916.2,755.9 918.4,756.1 920.5,756.3 922.6,756.6 924.8,756.9 926.9,757.2 929.1,757.7 931.2,758.1 933.4,758.6 935.5,759.2 937.7,759.8 939.8,760.5 942.0,761.2 944.1,761.9 946.3,762.7 948.4,763.5 950.6,764.4 952.7,765.2 954.9,766.2 957.0,767.1 959.1,768.1 961.3,769.1 963.4,770.1 965.6,771.1 967.7,772.2 969.9,773.2 972.0,774.3 974.2,775.3 976.3,776.4 978.5,777.5 980.6,778.5 982.8,779.6 984.9,780.6 987.1,781.6 989.2,782.7 991.4,783.7 993.5,784.6 995.6,785.6 997.8,786.5 999.9,787.4 1002.1,788.3 1004.2,789.1 1006.4,789.9 1008.5,790.7 1010.7,791.5 1012.8,792.2 1015.0,792.9 1017.1,793.5 1019.3,794.2 1021.4,794.8 1023.6,795.4 1025.7,795.9 1027.9,796.5 1030.0,797.0 1032.1,797.5 1034.3,798.0 1036.4,798.4 1038.6,798.8 1040.7,799.2 1042.9,799.6 1045.0,800.0 1047.2,800.3 1049.3,800.7 1051.5,801.0 1053.6,801.3 1055.8,801.6 1057.9,801.8 1060.1,802.1 1062.2,802.3 1064.4,802.5 1066.5,802.7 1068.7,802.9 1070.8,803.1 1072.9,803.3 1075.1,803.4 1077.2,803.5 1079.4,803.7 1081.5,803.8 1083.7,803.9 1085.8,804.0 1088.0,804.0 1090.1,804.1 1092.3,804.1 1094.4,804.2 1096.6,804.2 1098.7,804.2 1100.9,804.2 1103.0,804.2 1105.2,804.2 1107.3,804.2 1109.4,804.1 1111.6,804.1 1113.7,804.0 1115.9,803.9 1118.0,803.9 1120.2,803.8 1122.3,803.7 1124.5,803.6 1126.6,803.4 1128.8,803.3 1130.9,803.2 1133.1,803.0 1135.2,802.9 1137.4,802.7 1139.5,802.5 1141.7,802.4 1143.8,802.2 1145.9,802.0 1148.1,801.8 1150.2,801.6 1152.4,801.4 1154.5,801.1 1156.7,800.9 1158.8,800.7 1161.0,800.4 1163.1,800.2 1165.3,799.9 1167.4,799.7 1169.6,799.4 1171.7,799.1 1173.9,798.9 1176.0,798.6 1178.2,798.3 1180.3,798.0" fill="none" stroke="#0000ff" stroke-width="3.6" stroke-linejoin="round"/>
<rect x="697.2" y="505.8" width="483.1" height="358.7" fill="none" stroke="#000" stroke-width="3.8"/>
<line x1="697.2" y1="864.5" x2="697.2" y2="868.5" stroke="#000" stroke-width="3.4" stroke-linecap="round"/>
<line x1="750.9" y1="864.5" x2="750.9" y2="872.1" stroke="#000" stroke-width="3.4" stroke-linecap="round"/>
<text transform="translate(750.9,895.1) scale(1,0.985)" font-size="23.5" font-weight="bold" text-anchor="middle">450</text>
<line x1="804.6" y1="864.5" x2="804.6" y2="868.5" stroke="#000" stroke-width="3.4" stroke-linecap="round"/>
<line x1="858.2" y1="864.5" x2="858.2" y2="872.1" stroke="#000" stroke-width="3.4" stroke-linecap="round"/>
<text transform="translate(858.2,895.1) scale(1,0.985)" font-size="23.5" font-weight="bold" text-anchor="middle">500</text>
<line x1="911.9" y1="864.5" x2="911.9" y2="868.5" stroke="#000" stroke-width="3.4" stroke-linecap="round"/>
<line x1="965.6" y1="864.5" x2="965.6" y2="872.1" stroke="#000" stroke-width="3.4" stroke-linecap="round"/>
<text transform="translate(965.6,895.1) scale(1,0.985)" font-size="23.5" font-weight="bold" text-anchor="middle">550</text>
<line x1="1019.3" y1="864.5" x2="1019.3" y2="868.5" stroke="#000" stroke-width="3.4" stroke-linecap="round"/>
<line x1="1072.9" y1="864.5" x2="1072.9" y2="872.1" stroke="#000" stroke-width="3.4" stroke-linecap="round"/>
<text transform="translate(1072.9,895.1) scale(1,0.985)" font-size="23.5" font-weight="bold" text-anchor="middle">600</text>
<line x1="1126.6" y1="864.5" x2="1126.6" y2="868.5" stroke="#000" stroke-width="3.4" stroke-linecap="round"/>
<line x1="1180.3" y1="864.5" x2="1180.3" y2="872.1" stroke="#000" stroke-width="3.4" stroke-linecap="round"/>
<text transform="translate(1180.3,895.1) scale(1,0.985)" font-size="23.5" font-weight="bold" text-anchor="middle">650</text>
<line x1="694.0" y1="864.5" x2="697.2" y2="864.5" stroke="#000" stroke-width="3.4" stroke-linecap="round"/>
<line x1="690.2" y1="838.9" x2="697.2" y2="838.9" stroke="#000" stroke-width="3.4" stroke-linecap="round"/>
<text transform="translate(684.8,846.2) scale(1,1.035)" font-size="23.5" font-weight="bold" text-anchor="end">-0.1</text>
<line x1="694.0" y1="813.3" x2="697.2" y2="813.3" stroke="#000" stroke-width="3.4" stroke-linecap="round"/>
<line x1="690.2" y1="787.6" x2="697.2" y2="787.6" stroke="#000" stroke-width="3.4" stroke-linecap="round"/>
<text transform="translate(684.8,794.9) scale(1,1.035)" font-size="23.5" font-weight="bold" text-anchor="end">0.0</text>
<line x1="694.0" y1="762.0" x2="697.2" y2="762.0" stroke="#000" stroke-width="3.4" stroke-linecap="round"/>
<line x1="690.2" y1="736.4" x2="697.2" y2="736.4" stroke="#000" stroke-width="3.4" stroke-linecap="round"/>
<text transform="translate(684.8,743.7) scale(1,1.035)" font-size="23.5" font-weight="bold" text-anchor="end">0.1</text>
<line x1="694.0" y1="710.8" x2="697.2" y2="710.8" stroke="#000" stroke-width="3.4" stroke-linecap="round"/>
<line x1="690.2" y1="685.1" x2="697.2" y2="685.1" stroke="#000" stroke-width="3.4" stroke-linecap="round"/>
<text transform="translate(684.8,692.4) scale(1,1.035)" font-size="23.5" font-weight="bold" text-anchor="end">0.2</text>
<line x1="694.0" y1="659.5" x2="697.2" y2="659.5" stroke="#000" stroke-width="3.4" stroke-linecap="round"/>
<line x1="690.2" y1="633.9" x2="697.2" y2="633.9" stroke="#000" stroke-width="3.4" stroke-linecap="round"/>
<text transform="translate(684.8,641.2) scale(1,1.035)" font-size="23.5" font-weight="bold" text-anchor="end">0.3</text>
<line x1="694.0" y1="608.3" x2="697.2" y2="608.3" stroke="#000" stroke-width="3.4" stroke-linecap="round"/>
<line x1="690.2" y1="582.7" x2="697.2" y2="582.7" stroke="#000" stroke-width="3.4" stroke-linecap="round"/>
<text transform="translate(684.8,590.0) scale(1,1.035)" font-size="23.5" font-weight="bold" text-anchor="end">0.4</text>
<line x1="694.0" y1="557.0" x2="697.2" y2="557.0" stroke="#000" stroke-width="3.4" stroke-linecap="round"/>
<line x1="690.2" y1="531.4" x2="697.2" y2="531.4" stroke="#000" stroke-width="3.4" stroke-linecap="round"/>
<text transform="translate(684.8,538.7) scale(1,1.035)" font-size="23.5" font-weight="bold" text-anchor="end">0.5</text>
<line x1="694.0" y1="505.8" x2="697.2" y2="505.8" stroke="#000" stroke-width="3.4" stroke-linecap="round"/>
<line x1="1066.2" y1="556.3" x2="1107.6" y2="556.3" stroke="#000000" stroke-width="4.1" stroke-linecap="round"/>
<text x="1113.0" y="563.8" font-size="23.3" font-weight="bold">0&#160;h</text>
<line x1="1066.2" y1="585.8" x2="1107.6" y2="585.8" stroke="#ff0000" stroke-width="4.1" stroke-linecap="round"/>
<text x="1113.0" y="593.3" font-size="23.3" font-weight="bold">1&#160;h</text>
<line x1="1066.2" y1="615.3" x2="1107.6" y2="615.3" stroke="#0000ff" stroke-width="4.1" stroke-linecap="round"/>
<text x="1113.0" y="622.8" font-size="23.3" font-weight="bold">2&#160;h</text>
<text transform="translate(632.4,698.0) rotate(-90)" font-size="23.5" font-weight="bold" text-anchor="middle">Abs</text>
<text x="939.0" y="928.5" font-size="23.6" font-weight="bold" letter-spacing="0.15" text-anchor="middle">Wavelength(nm)</text>
<text x="939.0" y="969.5" font-size="27" font-weight="bold" letter-spacing="1.4" text-anchor="middle">(d)</text>
</g>
</svg>
</body></html>
